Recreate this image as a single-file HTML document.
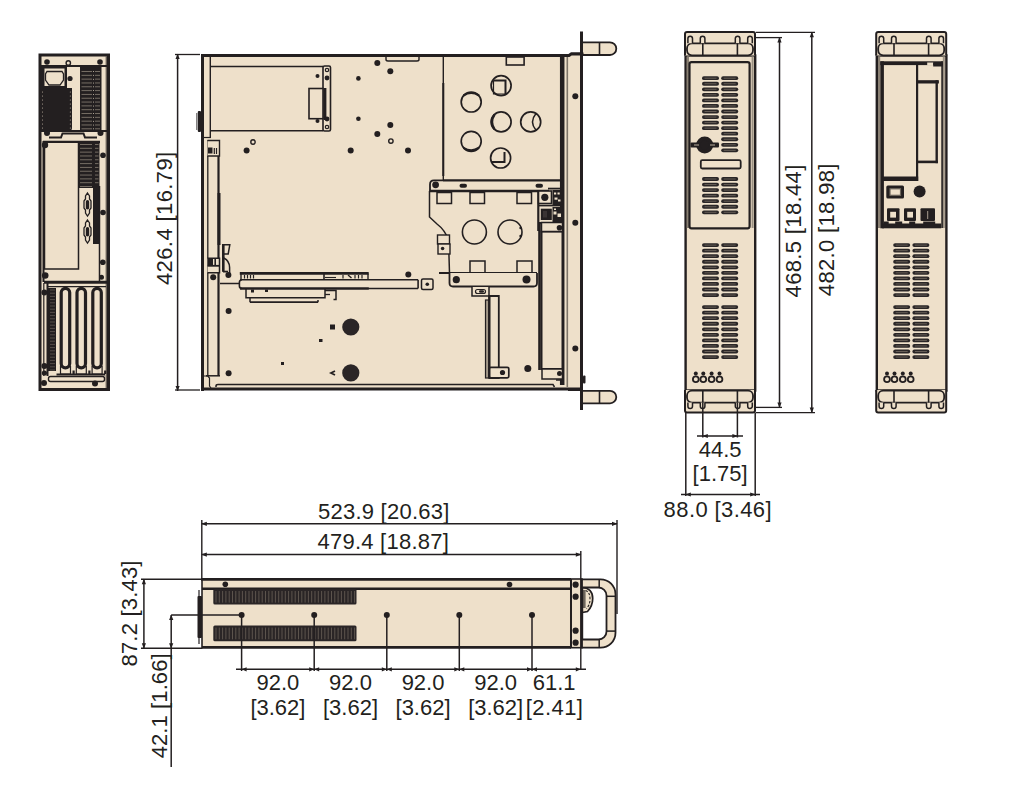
<!DOCTYPE html>
<html><head><meta charset="utf-8"><title>Chassis drawing</title>
<style>
html,body{margin:0;padding:0;background:#fff;width:1021px;height:794px;overflow:hidden}
svg{position:absolute;left:0;top:0;display:block}
text{font-family:"Liberation Sans",sans-serif;font-size:22px;fill:#231f20}
</style></head>
<body>
<svg width="1021" height="794" viewBox="0 0 1021 794">
<rect x="40" y="55" width="68.5" height="334.5" fill="#eee0ca" stroke="#231f20" stroke-width="3"/>
<line x1="106.3" y1="56" x2="106.3" y2="388" stroke="#5f574f" stroke-width="1.3"/>
<line x1="41" y1="66" x2="107" y2="66" stroke="#231f20" stroke-width="2"/>
<circle cx="47" cy="62" r="2.8" fill="#231f20"/>
<circle cx="68.3" cy="63" r="2.2" fill="#eee0ca" stroke="#231f20" stroke-width="1.4"/>
<circle cx="100" cy="62" r="2.8" fill="#231f20"/>
<rect x="41" y="66" width="26" height="22" fill="#231f20"/>
<rect x="44.5" y="68.5" width="20" height="17.5" fill="#eee0ca"/>
<path d="M47 71.5 H62 L63.5 74 V80 L60 85 H49 L45.5 80 V74 Z" fill="#eee0ca" stroke="#231f20" stroke-width="1.3"/>
<path d="M41 88 H72 V128 Q72 131 69 131 H41 Z" fill="#231f20"/>
<circle cx="42.5" cy="92" r="0.5" fill="#c8bba8"/>
<circle cx="70.3" cy="92" r="0.5" fill="#c8bba8"/>
<circle cx="42.5" cy="96" r="0.5" fill="#c8bba8"/>
<circle cx="70.3" cy="96" r="0.5" fill="#c8bba8"/>
<circle cx="42.5" cy="100" r="0.5" fill="#c8bba8"/>
<circle cx="70.3" cy="100" r="0.5" fill="#c8bba8"/>
<circle cx="42.5" cy="104" r="0.5" fill="#c8bba8"/>
<circle cx="70.3" cy="104" r="0.5" fill="#c8bba8"/>
<circle cx="42.5" cy="108" r="0.5" fill="#c8bba8"/>
<circle cx="70.3" cy="108" r="0.5" fill="#c8bba8"/>
<circle cx="42.5" cy="112" r="0.5" fill="#c8bba8"/>
<circle cx="70.3" cy="112" r="0.5" fill="#c8bba8"/>
<circle cx="42.5" cy="116" r="0.5" fill="#c8bba8"/>
<circle cx="70.3" cy="116" r="0.5" fill="#c8bba8"/>
<circle cx="42.5" cy="120" r="0.5" fill="#c8bba8"/>
<circle cx="70.3" cy="120" r="0.5" fill="#c8bba8"/>
<circle cx="42.5" cy="124" r="0.5" fill="#c8bba8"/>
<circle cx="70.3" cy="124" r="0.5" fill="#c8bba8"/>
<circle cx="42.5" cy="128" r="0.5" fill="#c8bba8"/>
<circle cx="70.3" cy="128" r="0.5" fill="#c8bba8"/>
<circle cx="70" cy="78.5" r="2.6" fill="#231f20"/>
<rect x="80" y="67" width="21.5" height="64" fill="#231f20"/>
<line x1="81.5" y1="71.5" x2="92" y2="71.5" stroke="#8a8175" stroke-width="0.8"/>
<line x1="95" y1="71.5" x2="100" y2="71.5" stroke="#8a8175" stroke-width="0.8"/>
<circle cx="93.5" cy="71.5" r="0.5" fill="#d8ccb8"/>
<line x1="81.5" y1="75.32" x2="92" y2="75.32" stroke="#8a8175" stroke-width="0.8"/>
<line x1="95" y1="75.32" x2="100" y2="75.32" stroke="#8a8175" stroke-width="0.8"/>
<circle cx="93.5" cy="75.32" r="0.5" fill="#d8ccb8"/>
<line x1="81.5" y1="79.13999999999999" x2="92" y2="79.13999999999999" stroke="#8a8175" stroke-width="0.8"/>
<line x1="95" y1="79.13999999999999" x2="100" y2="79.13999999999999" stroke="#8a8175" stroke-width="0.8"/>
<circle cx="93.5" cy="79.13999999999999" r="0.5" fill="#d8ccb8"/>
<line x1="81.5" y1="82.95999999999998" x2="92" y2="82.95999999999998" stroke="#8a8175" stroke-width="0.8"/>
<line x1="95" y1="82.95999999999998" x2="100" y2="82.95999999999998" stroke="#8a8175" stroke-width="0.8"/>
<circle cx="93.5" cy="82.95999999999998" r="0.5" fill="#d8ccb8"/>
<line x1="81.5" y1="86.77999999999997" x2="92" y2="86.77999999999997" stroke="#8a8175" stroke-width="0.8"/>
<line x1="95" y1="86.77999999999997" x2="100" y2="86.77999999999997" stroke="#8a8175" stroke-width="0.8"/>
<circle cx="93.5" cy="86.77999999999997" r="0.5" fill="#d8ccb8"/>
<line x1="81.5" y1="90.59999999999997" x2="92" y2="90.59999999999997" stroke="#8a8175" stroke-width="0.8"/>
<line x1="95" y1="90.59999999999997" x2="100" y2="90.59999999999997" stroke="#8a8175" stroke-width="0.8"/>
<circle cx="93.5" cy="90.59999999999997" r="0.5" fill="#d8ccb8"/>
<line x1="81.5" y1="94.41999999999996" x2="92" y2="94.41999999999996" stroke="#8a8175" stroke-width="0.8"/>
<line x1="95" y1="94.41999999999996" x2="100" y2="94.41999999999996" stroke="#8a8175" stroke-width="0.8"/>
<circle cx="93.5" cy="94.41999999999996" r="0.5" fill="#d8ccb8"/>
<line x1="81.5" y1="98.23999999999995" x2="92" y2="98.23999999999995" stroke="#8a8175" stroke-width="0.8"/>
<line x1="95" y1="98.23999999999995" x2="100" y2="98.23999999999995" stroke="#8a8175" stroke-width="0.8"/>
<circle cx="93.5" cy="98.23999999999995" r="0.5" fill="#d8ccb8"/>
<line x1="81.5" y1="102.05999999999995" x2="92" y2="102.05999999999995" stroke="#8a8175" stroke-width="0.8"/>
<line x1="95" y1="102.05999999999995" x2="100" y2="102.05999999999995" stroke="#8a8175" stroke-width="0.8"/>
<circle cx="93.5" cy="102.05999999999995" r="0.5" fill="#d8ccb8"/>
<line x1="81.5" y1="105.87999999999994" x2="92" y2="105.87999999999994" stroke="#8a8175" stroke-width="0.8"/>
<line x1="95" y1="105.87999999999994" x2="100" y2="105.87999999999994" stroke="#8a8175" stroke-width="0.8"/>
<circle cx="93.5" cy="105.87999999999994" r="0.5" fill="#d8ccb8"/>
<line x1="81.5" y1="109.69999999999993" x2="92" y2="109.69999999999993" stroke="#8a8175" stroke-width="0.8"/>
<line x1="95" y1="109.69999999999993" x2="100" y2="109.69999999999993" stroke="#8a8175" stroke-width="0.8"/>
<circle cx="93.5" cy="109.69999999999993" r="0.5" fill="#d8ccb8"/>
<line x1="81.5" y1="113.51999999999992" x2="92" y2="113.51999999999992" stroke="#8a8175" stroke-width="0.8"/>
<line x1="95" y1="113.51999999999992" x2="100" y2="113.51999999999992" stroke="#8a8175" stroke-width="0.8"/>
<circle cx="93.5" cy="113.51999999999992" r="0.5" fill="#d8ccb8"/>
<line x1="81.5" y1="117.33999999999992" x2="92" y2="117.33999999999992" stroke="#8a8175" stroke-width="0.8"/>
<line x1="95" y1="117.33999999999992" x2="100" y2="117.33999999999992" stroke="#8a8175" stroke-width="0.8"/>
<circle cx="93.5" cy="117.33999999999992" r="0.5" fill="#d8ccb8"/>
<line x1="81.5" y1="121.15999999999991" x2="92" y2="121.15999999999991" stroke="#8a8175" stroke-width="0.8"/>
<line x1="95" y1="121.15999999999991" x2="100" y2="121.15999999999991" stroke="#8a8175" stroke-width="0.8"/>
<circle cx="93.5" cy="121.15999999999991" r="0.5" fill="#d8ccb8"/>
<line x1="81.5" y1="124.9799999999999" x2="92" y2="124.9799999999999" stroke="#8a8175" stroke-width="0.8"/>
<line x1="95" y1="124.9799999999999" x2="100" y2="124.9799999999999" stroke="#8a8175" stroke-width="0.8"/>
<circle cx="93.5" cy="124.9799999999999" r="0.5" fill="#d8ccb8"/>
<line x1="81.5" y1="128.7999999999999" x2="92" y2="128.7999999999999" stroke="#8a8175" stroke-width="0.8"/>
<line x1="95" y1="128.7999999999999" x2="100" y2="128.7999999999999" stroke="#8a8175" stroke-width="0.8"/>
<circle cx="93.5" cy="128.7999999999999" r="0.5" fill="#d8ccb8"/>
<line x1="41" y1="131" x2="107" y2="131" stroke="#231f20" stroke-width="2"/>
<path d="M49 137.5 H61 L62.5 133.5 H83.5 L85 137.5 H97" fill="none" stroke="#231f20" stroke-width="2"/>
<circle cx="47" cy="133" r="3" fill="#231f20"/>
<circle cx="100.5" cy="133" r="3" fill="#231f20"/>
<path d="M43.5 282 V142 H100" fill="none" stroke="#231f20" stroke-width="2"/>
<line x1="43" y1="142" x2="100" y2="142" stroke="#231f20" stroke-width="2.6"/>
<path d="M44.5 143 V269 H78.5 V143" fill="#eee0ca" stroke="#231f20" stroke-width="1.5"/>
<rect x="78.5" y="142" width="21" height="46" fill="#231f20"/>
<line x1="80" y1="144.5" x2="92" y2="144.5" stroke="#8a8175" stroke-width="0.8"/>
<line x1="95" y1="144.5" x2="98.5" y2="144.5" stroke="#8a8175" stroke-width="0.8"/>
<line x1="80" y1="148.32" x2="92" y2="148.32" stroke="#8a8175" stroke-width="0.8"/>
<line x1="95" y1="148.32" x2="98.5" y2="148.32" stroke="#8a8175" stroke-width="0.8"/>
<line x1="80" y1="152.14" x2="92" y2="152.14" stroke="#8a8175" stroke-width="0.8"/>
<line x1="95" y1="152.14" x2="98.5" y2="152.14" stroke="#8a8175" stroke-width="0.8"/>
<line x1="80" y1="155.95999999999998" x2="92" y2="155.95999999999998" stroke="#8a8175" stroke-width="0.8"/>
<line x1="95" y1="155.95999999999998" x2="98.5" y2="155.95999999999998" stroke="#8a8175" stroke-width="0.8"/>
<line x1="80" y1="159.77999999999997" x2="92" y2="159.77999999999997" stroke="#8a8175" stroke-width="0.8"/>
<line x1="95" y1="159.77999999999997" x2="98.5" y2="159.77999999999997" stroke="#8a8175" stroke-width="0.8"/>
<line x1="80" y1="163.59999999999997" x2="92" y2="163.59999999999997" stroke="#8a8175" stroke-width="0.8"/>
<line x1="95" y1="163.59999999999997" x2="98.5" y2="163.59999999999997" stroke="#8a8175" stroke-width="0.8"/>
<line x1="80" y1="167.41999999999996" x2="92" y2="167.41999999999996" stroke="#8a8175" stroke-width="0.8"/>
<line x1="95" y1="167.41999999999996" x2="98.5" y2="167.41999999999996" stroke="#8a8175" stroke-width="0.8"/>
<line x1="80" y1="171.23999999999995" x2="92" y2="171.23999999999995" stroke="#8a8175" stroke-width="0.8"/>
<line x1="95" y1="171.23999999999995" x2="98.5" y2="171.23999999999995" stroke="#8a8175" stroke-width="0.8"/>
<line x1="80" y1="175.05999999999995" x2="92" y2="175.05999999999995" stroke="#8a8175" stroke-width="0.8"/>
<line x1="95" y1="175.05999999999995" x2="98.5" y2="175.05999999999995" stroke="#8a8175" stroke-width="0.8"/>
<line x1="80" y1="178.87999999999994" x2="92" y2="178.87999999999994" stroke="#8a8175" stroke-width="0.8"/>
<line x1="95" y1="178.87999999999994" x2="98.5" y2="178.87999999999994" stroke="#8a8175" stroke-width="0.8"/>
<line x1="80" y1="182.69999999999993" x2="92" y2="182.69999999999993" stroke="#8a8175" stroke-width="0.8"/>
<line x1="95" y1="182.69999999999993" x2="98.5" y2="182.69999999999993" stroke="#8a8175" stroke-width="0.8"/>
<line x1="80" y1="186.51999999999992" x2="92" y2="186.51999999999992" stroke="#8a8175" stroke-width="0.8"/>
<line x1="95" y1="186.51999999999992" x2="98.5" y2="186.51999999999992" stroke="#8a8175" stroke-width="0.8"/>
<rect x="93" y="186" width="6.5" height="58" fill="#231f20"/>
<line x1="99.5" y1="186" x2="99.5" y2="283" stroke="#231f20" stroke-width="1.5"/>
<circle cx="45" cy="145" r="3.2" fill="#231f20"/>
<circle cx="103" cy="155.2" r="2.8" fill="#231f20"/>
<circle cx="103" cy="212.5" r="2.8" fill="#231f20"/>
<circle cx="102.8" cy="262.2" r="2.8" fill="#231f20"/>
<circle cx="101.5" cy="277.3" r="2.5" fill="#231f20"/>
<circle cx="45.2" cy="275.5" r="3.3" fill="#231f20"/>
<path d="M87.5 193 L89.5 196 V199 L91 201 V208 L89.5 210 V213 L87.5 216 L85.5 213 V210 L84 208 V201 L85.5 199 V196 Z" fill="#eee0ca" stroke="#231f20" stroke-width="1.3"/>
<rect x="85.8" y="200" width="3.4" height="9.5" rx="1.7" fill="#231f20"/>
<path d="M87.5 220 L89.5 223 V226 L91 228 V235 L89.5 237 V240 L87.5 243 L85.5 240 V237 L84 235 V228 L85.5 226 V223 Z" fill="#eee0ca" stroke="#231f20" stroke-width="1.3"/>
<rect x="85.8" y="227" width="3.4" height="9.5" rx="1.7" fill="#231f20"/>
<line x1="44" y1="282.3" x2="107" y2="282.3" stroke="#231f20" stroke-width="3"/>
<line x1="47" y1="286.6" x2="106" y2="286.6" stroke="#231f20" stroke-width="1.2"/>
<line x1="43.8" y1="283" x2="43.8" y2="376" stroke="#231f20" stroke-width="1.2"/>
<line x1="47.5" y1="283" x2="47.5" y2="376" stroke="#231f20" stroke-width="2"/>
<rect x="48" y="288" width="8" height="83" fill="#231f20"/>
<line x1="50" y1="290" x2="55" y2="290" stroke="#6a625a" stroke-width="0.7"/>
<line x1="50" y1="293.2" x2="55" y2="293.2" stroke="#6a625a" stroke-width="0.7"/>
<line x1="50" y1="296.4" x2="55" y2="296.4" stroke="#6a625a" stroke-width="0.7"/>
<line x1="50" y1="299.59999999999997" x2="55" y2="299.59999999999997" stroke="#6a625a" stroke-width="0.7"/>
<line x1="50" y1="302.79999999999995" x2="55" y2="302.79999999999995" stroke="#6a625a" stroke-width="0.7"/>
<line x1="50" y1="305.99999999999994" x2="55" y2="305.99999999999994" stroke="#6a625a" stroke-width="0.7"/>
<line x1="50" y1="309.19999999999993" x2="55" y2="309.19999999999993" stroke="#6a625a" stroke-width="0.7"/>
<line x1="50" y1="312.3999999999999" x2="55" y2="312.3999999999999" stroke="#6a625a" stroke-width="0.7"/>
<line x1="50" y1="315.5999999999999" x2="55" y2="315.5999999999999" stroke="#6a625a" stroke-width="0.7"/>
<line x1="50" y1="318.7999999999999" x2="55" y2="318.7999999999999" stroke="#6a625a" stroke-width="0.7"/>
<line x1="50" y1="321.9999999999999" x2="55" y2="321.9999999999999" stroke="#6a625a" stroke-width="0.7"/>
<line x1="50" y1="325.1999999999999" x2="55" y2="325.1999999999999" stroke="#6a625a" stroke-width="0.7"/>
<line x1="50" y1="328.39999999999986" x2="55" y2="328.39999999999986" stroke="#6a625a" stroke-width="0.7"/>
<line x1="50" y1="331.59999999999985" x2="55" y2="331.59999999999985" stroke="#6a625a" stroke-width="0.7"/>
<line x1="50" y1="334.79999999999984" x2="55" y2="334.79999999999984" stroke="#6a625a" stroke-width="0.7"/>
<line x1="50" y1="337.99999999999983" x2="55" y2="337.99999999999983" stroke="#6a625a" stroke-width="0.7"/>
<line x1="50" y1="341.1999999999998" x2="55" y2="341.1999999999998" stroke="#6a625a" stroke-width="0.7"/>
<line x1="50" y1="344.3999999999998" x2="55" y2="344.3999999999998" stroke="#6a625a" stroke-width="0.7"/>
<line x1="50" y1="347.5999999999998" x2="55" y2="347.5999999999998" stroke="#6a625a" stroke-width="0.7"/>
<line x1="50" y1="350.7999999999998" x2="55" y2="350.7999999999998" stroke="#6a625a" stroke-width="0.7"/>
<line x1="50" y1="353.9999999999998" x2="55" y2="353.9999999999998" stroke="#6a625a" stroke-width="0.7"/>
<line x1="50" y1="357.19999999999976" x2="55" y2="357.19999999999976" stroke="#6a625a" stroke-width="0.7"/>
<line x1="50" y1="360.39999999999975" x2="55" y2="360.39999999999975" stroke="#6a625a" stroke-width="0.7"/>
<line x1="50" y1="363.59999999999974" x2="55" y2="363.59999999999974" stroke="#6a625a" stroke-width="0.7"/>
<line x1="50" y1="366.7999999999997" x2="55" y2="366.7999999999997" stroke="#6a625a" stroke-width="0.7"/>
<line x1="50" y1="369.9999999999997" x2="55" y2="369.9999999999997" stroke="#6a625a" stroke-width="0.7"/>
<circle cx="44.4" cy="292.4" r="3" fill="#231f20"/>
<circle cx="44.4" cy="366" r="3" fill="#231f20"/>
<circle cx="44.4" cy="373" r="2.6" fill="#231f20"/>
<rect x="61.2" y="288.3" width="8.5" height="79.5" rx="4.25" fill="#eee0ca" stroke="#231f20" stroke-width="3.2"/>
<path d="M60.5 366 V374 H70.5 V366" fill="none" stroke="#231f20" stroke-width="1.2"/>
<rect x="72.5" y="370.5" width="2.2" height="3.5" fill="#231f20"/>
<rect x="77.0" y="288.3" width="8.5" height="79.5" rx="4.25" fill="#eee0ca" stroke="#231f20" stroke-width="3.2"/>
<path d="M76.3 366 V374 H86.3 V366" fill="none" stroke="#231f20" stroke-width="1.2"/>
<rect x="88.3" y="370.5" width="2.2" height="3.5" fill="#231f20"/>
<rect x="92.80000000000001" y="288.3" width="8.5" height="79.5" rx="4.25" fill="#eee0ca" stroke="#231f20" stroke-width="3.2"/>
<path d="M92.1 366 V374 H102.1 V366" fill="none" stroke="#231f20" stroke-width="1.2"/>
<rect x="104.1" y="370.5" width="2.2" height="3.5" fill="#231f20"/>
<line x1="56.5" y1="374.5" x2="105" y2="374.5" stroke="#231f20" stroke-width="2"/>
<rect x="48.5" y="376.5" width="56" height="5" rx="2" fill="#eee0ca" stroke="#231f20" stroke-width="1.4"/>
<circle cx="44" cy="383" r="3" fill="#231f20"/>
<circle cx="95" cy="383.5" r="3" fill="#231f20"/>
<path d="M201 54.5 H569 L571 53 H582 V390 H201 Z" fill="#eee0ca"/>
<line x1="567.3" y1="57" x2="567.3" y2="387" stroke="#7d7468" stroke-width="1.6"/>
<line x1="581.5" y1="31.5" x2="581.5" y2="410" stroke="#231f20" stroke-width="3"/>
<line x1="562.2" y1="57" x2="562.2" y2="385" stroke="#231f20" stroke-width="4.5"/>
<path d="M201 55.5 H569 L571.5 53.8 H582" fill="none" stroke="#231f20" stroke-width="3.2"/>
<line x1="202.5" y1="54" x2="202.5" y2="391" stroke="#231f20" stroke-width="3"/>
<line x1="201" y1="389" x2="583" y2="389" stroke="#231f20" stroke-width="3.2"/>
<path d="M216 387 V386 Q216 384.5 218 384.5 H553 L554.5 387" fill="none" stroke="#231f20" stroke-width="1.5"/>
<rect x="197.8" y="111" width="3.2" height="21" rx="1" fill="#231f20"/>
<line x1="196.8" y1="113" x2="196.8" y2="130" stroke="#231f20" stroke-width="0.8"/>
<line x1="210.3" y1="57" x2="210.3" y2="137" stroke="#231f20" stroke-width="1.4"/>
<line x1="204" y1="137.5" x2="211" y2="137.5" stroke="#231f20" stroke-width="1.2"/>
<line x1="207.8" y1="140" x2="207.8" y2="376" stroke="#231f20" stroke-width="1.3"/>
<line x1="218.5" y1="140" x2="218.5" y2="376" stroke="#231f20" stroke-width="2.2"/>
<line x1="219" y1="193" x2="219" y2="245" stroke="#231f20" stroke-width="3"/>
<line x1="206" y1="375.8" x2="220" y2="375.8" stroke="#231f20" stroke-width="1.5"/>
<path d="M207.5 140.5 H219.5 V156 H207.5" fill="#eee0ca" stroke="#231f20" stroke-width="1.4"/>
<rect x="208" y="147.5" width="4.5" height="6" fill="#231f20"/>
<line x1="214.3" y1="148" x2="214.3" y2="154" stroke="#231f20" stroke-width="1.2"/>
<line x1="216.5" y1="148" x2="216.5" y2="154" stroke="#231f20" stroke-width="1.2"/>
<path d="M207.5 258.3 H219.5 V272.7 H207.5" fill="#eee0ca" stroke="#231f20" stroke-width="1.5"/>
<rect x="207.5" y="258.5" width="5.5" height="7" fill="#231f20"/>
<line x1="215.2" y1="258.5" x2="215.2" y2="265.5" stroke="#231f20" stroke-width="1.6"/>
<line x1="207.5" y1="265.8" x2="219.5" y2="265.8" stroke="#231f20" stroke-width="1.8"/>
<path d="M222.5 244.8 H229.8 L228.2 254 H222.5" fill="#eee0ca" stroke="#231f20" stroke-width="1.5"/>
<line x1="223.3" y1="244" x2="223.3" y2="271.8" stroke="#231f20" stroke-width="2.6"/>
<path d="M223.8 258 Q229.6 261 229.6 267.5 V273" fill="none" stroke="#231f20" stroke-width="1.5"/>
<line x1="223" y1="271.6" x2="228" y2="271.6" stroke="#231f20" stroke-width="1.8"/>
<circle cx="213.2" cy="277.2" r="3" fill="#231f20"/>
<circle cx="228.4" cy="275" r="3" fill="#231f20"/>
<path d="M202 376 H207.8 L209.5 378 V386 L211 388" fill="none" stroke="#231f20" stroke-width="1.2"/>
<path d="M210.3 66.5 H323 M210.3 130.7 H323" fill="none" stroke="#231f20" stroke-width="1.6"/>
<rect x="323" y="66" width="7.5" height="65" rx="1.5" fill="#eee0ca" stroke="#231f20" stroke-width="1.6"/>
<line x1="325.2" y1="88" x2="325.2" y2="120" stroke="#231f20" stroke-width="2.4"/>
<rect x="309" y="88.5" width="14" height="30.2" fill="#eee0ca" stroke="#231f20" stroke-width="1.6"/>
<circle cx="317.5" cy="76" r="2" fill="#231f20"/>
<circle cx="317.5" cy="121" r="2" fill="#231f20"/>
<circle cx="327" cy="70" r="1.7" fill="#eee0ca" stroke="#231f20" stroke-width="1.2"/>
<circle cx="327" cy="78" r="2.4" fill="#231f20"/>
<circle cx="327" cy="119" r="2.4" fill="#231f20"/>
<circle cx="327" cy="127" r="1.7" fill="#eee0ca" stroke="#231f20" stroke-width="1.2"/>
<circle cx="377.3" cy="62.9" r="3" fill="#231f20"/>
<circle cx="390.3" cy="71.3" r="3" fill="#231f20"/>
<circle cx="358.4" cy="78.4" r="2.3" fill="#231f20"/>
<circle cx="358.4" cy="118.7" r="2.3" fill="#231f20"/>
<circle cx="390.3" cy="124.9" r="3" fill="#231f20"/>
<circle cx="377.3" cy="134" r="3" fill="#231f20"/>
<circle cx="246.6" cy="150.4" r="3" fill="#231f20"/>
<circle cx="350.7" cy="150.4" r="3" fill="#231f20"/>
<circle cx="408" cy="150.4" r="3" fill="#231f20"/>
<circle cx="228.6" cy="311" r="3" fill="#231f20"/>
<circle cx="228.6" cy="373.3" r="3" fill="#231f20"/>
<circle cx="527.8" cy="368.4" r="3.5" fill="#231f20"/>
<circle cx="408.3" cy="274.6" r="3" fill="#231f20"/>
<circle cx="253" cy="142" r="2.2" fill="#eee0ca" stroke="#231f20" stroke-width="1.4"/>
<circle cx="390.9" cy="141.1" r="2.2" fill="#eee0ca" stroke="#231f20" stroke-width="1.4"/>
<path d="M386 57 V59.5 Q386 61 388 61 H417 Q419 61 419 59.5 V57" fill="#eee0ca" stroke="#231f20" stroke-width="1.4"/>
<rect x="506.3" y="57" width="17.8" height="8" fill="#eee0ca" stroke="#231f20" stroke-width="1.6"/>
<line x1="443.3" y1="57" x2="443.3" y2="181" stroke="#231f20" stroke-width="1.4"/>
<line x1="443.3" y1="83" x2="443.3" y2="176" stroke="#231f20" stroke-width="2"/>
<line x1="443" y1="180.4" x2="562" y2="180.4" stroke="#231f20" stroke-width="2.2"/>
<circle cx="501.1" cy="85.6" r="10" fill="none" stroke="#231f20" stroke-width="1.7"/>
<circle cx="471.2" cy="102" r="10" fill="none" stroke="#231f20" stroke-width="1.7"/>
<circle cx="501.1" cy="121.9" r="10" fill="none" stroke="#231f20" stroke-width="1.7"/>
<circle cx="530.7" cy="121.9" r="10" fill="none" stroke="#231f20" stroke-width="1.7"/>
<circle cx="471.2" cy="141.3" r="10" fill="none" stroke="#231f20" stroke-width="1.7"/>
<circle cx="500.6" cy="158" r="10" fill="none" stroke="#231f20" stroke-width="1.7"/>
<path d="M493.5 80.5 H505.5 V94" fill="none" stroke="#231f20" stroke-width="2"/>
<path d="M493.5 80.5 V94 H505.5" fill="none" stroke="#231f20" stroke-width="1.2"/>
<path d="M463.5 95.5 Q471.2 90.5 479 95.5" fill="none" stroke="#231f20" stroke-width="2.2"/>
<path d="M494.5 114.5 Q489.5 121.9 494.5 129.3" fill="none" stroke="#231f20" stroke-width="2.4"/>
<path d="M536 113.5 Q529 121.9 536 130.3" fill="none" stroke="#231f20" stroke-width="1.5"/>
<path d="M463.5 147.8 Q471.2 152.8 479 147.8" fill="none" stroke="#231f20" stroke-width="2.2"/>
<path d="M491.5 162 H504.5 V152" fill="none" stroke="#231f20" stroke-width="2"/>
<path d="M430 191 V184.5 Q430 180.4 434 180.4 H443" fill="none" stroke="#231f20" stroke-width="1.8"/>
<circle cx="435.6" cy="184.8" r="3.4" fill="#231f20"/>
<rect x="459.5" y="183.8" width="7.5" height="4" rx="2" fill="#231f20"/>
<rect x="535.5" y="183.8" width="7.5" height="4" rx="2" fill="#231f20"/>
<line x1="429.5" y1="191" x2="549" y2="191" stroke="#231f20" stroke-width="2.6"/>
<path d="M429.5 191 V217 L437 224 Q445 230 448.5 240 L449.5 272.9" fill="none" stroke="#231f20" stroke-width="1.5"/>
<rect x="437" y="192.5" width="14.5" height="11" fill="#eee0ca" stroke="#231f20" stroke-width="1.5"/>
<rect x="470" y="192.5" width="14.5" height="11" fill="#eee0ca" stroke="#231f20" stroke-width="1.5"/>
<rect x="517" y="192.5" width="14.5" height="11" fill="#eee0ca" stroke="#231f20" stroke-width="1.5"/>
<rect x="470" y="261" width="15" height="12" fill="#eee0ca" stroke="#231f20" stroke-width="1.5"/>
<rect x="517" y="261" width="15" height="12" fill="#eee0ca" stroke="#231f20" stroke-width="1.5"/>
<circle cx="474.4" cy="232" r="12" fill="none" stroke="#231f20" stroke-width="1.6"/>
<circle cx="510" cy="232" r="12" fill="none" stroke="#231f20" stroke-width="1.6"/>
<circle cx="520.5" cy="228" r="1.2" fill="#231f20"/>
<circle cx="520.5" cy="236" r="1.2" fill="#231f20"/>
<rect x="437.5" y="235" width="12" height="9" fill="#eee0ca" stroke="#231f20" stroke-width="1.4"/>
<rect x="438" y="244" width="12" height="10" fill="#eee0ca" stroke="#231f20" stroke-width="1.4"/>
<circle cx="442.6" cy="248.5" r="1.8" fill="#231f20"/>
<line x1="439" y1="272.9" x2="537" y2="272.9" stroke="#231f20" stroke-width="2"/>
<path d="M449.5 272.9 V283 Q449.5 286.5 453 286.5 H533.5 Q537 286.5 537 283 V272.9" fill="#eee0ca" stroke="#231f20" stroke-width="1.8"/>
<circle cx="456.3" cy="279.7" r="3.6" fill="#231f20"/>
<circle cx="526.5" cy="279.5" r="4" fill="#231f20"/>
<rect x="421.5" y="279" width="11.5" height="10.5" rx="1.5" fill="#eee0ca" stroke="#231f20" stroke-width="1.5"/>
<circle cx="427.3" cy="284.2" r="1.8" fill="#231f20"/>
<path d="M472 287 V296 H489 V287" fill="#eee0ca" stroke="#231f20" stroke-width="1.5"/>
<rect x="475.5" y="289.5" width="10" height="4" rx="2" fill="none" stroke="#231f20" stroke-width="1.2"/>
<rect x="479" y="290.3" width="5" height="2.4" rx="1.2" fill="#231f20"/>
<rect x="485.5" y="300" width="3.6" height="78" fill="#a59a8a" stroke="#231f20" stroke-width="1.2"/>
<path d="M489.3 296 H498.8 V378 H489.3 Z" fill="#eee0ca" stroke="#231f20" stroke-width="1.8"/>
<rect x="489.3" y="367.3" width="19.5" height="10.5" rx="1.5" fill="#eee0ca" stroke="#231f20" stroke-width="1.7"/>
<circle cx="502.5" cy="372.5" r="2.6" fill="#231f20"/>
<line x1="489.3" y1="296" x2="489.3" y2="378" stroke="#231f20" stroke-width="2.2"/>
<line x1="548" y1="188.6" x2="563" y2="188.6" stroke="#231f20" stroke-width="1.8"/>
<line x1="538.3" y1="190" x2="538.3" y2="231" stroke="#231f20" stroke-width="2.2"/>
<rect x="538.5" y="191" width="13" height="12.5" fill="#eee0ca" stroke="#231f20" stroke-width="1.6"/>
<circle cx="544.8" cy="197.3" r="3.6" fill="#231f20"/>
<rect x="552.5" y="190" width="9.5" height="15" fill="#231f20"/>
<rect x="554" y="192.5" width="2.2" height="2" fill="#eee0ca"/>
<rect x="557.5" y="192.5" width="2.2" height="2" fill="#eee0ca"/>
<rect x="554.5" y="197.5" width="3" height="2.2" fill="#eee0ca"/>
<rect x="558" y="199.5" width="2.5" height="2" fill="#eee0ca"/>
<line x1="538" y1="205.6" x2="563" y2="205.6" stroke="#231f20" stroke-width="1.6"/>
<rect x="540.8" y="208.7" width="11" height="11.3" fill="#231f20"/>
<rect x="543" y="211" width="4" height="6.5" fill="#3a3434"/>
<rect x="552.5" y="207" width="10" height="15" fill="#231f20"/>
<rect x="553.5" y="211.5" width="3" height="3" fill="#eee0ca"/>
<rect x="557.5" y="213.5" width="3.5" height="3.5" fill="#eee0ca"/>
<rect x="554" y="208.5" width="2" height="1.5" fill="#eee0ca"/>
<line x1="538" y1="223" x2="563" y2="223" stroke="#231f20" stroke-width="1.8"/>
<line x1="539.5" y1="222" x2="539.5" y2="370" stroke="#231f20" stroke-width="2.6"/>
<rect x="541.5" y="231.5" width="21" height="137.5" fill="#eee0ca" stroke="#231f20" stroke-width="2"/>
<rect x="541.5" y="222.5" width="21" height="9" fill="#eee0ca" stroke="#231f20" stroke-width="1.5"/>
<circle cx="559.5" cy="227.7" r="2.8" fill="#231f20"/>
<rect x="542" y="369" width="20.5" height="10" fill="#eee0ca" stroke="#231f20" stroke-width="1.5"/>
<circle cx="559.5" cy="373.5" r="2.5" fill="#231f20"/>
<line x1="556" y1="380" x2="562" y2="380" stroke="#231f20" stroke-width="1.5"/>
<circle cx="575.3" cy="96.2" r="3" fill="#231f20"/>
<circle cx="575.3" cy="222.7" r="3" fill="#231f20"/>
<circle cx="575.3" cy="348.5" r="3" fill="#231f20"/>
<path d="M583 42.3 H609.9499999999999 A6.350000000000001 6.350000000000001 0 0 1 609.9499999999999 55 H583" fill="#eee0ca" stroke="#231f20" stroke-width="1.8"/>
<line x1="599.5" y1="42.3" x2="599.5" y2="55" stroke="#231f20" stroke-width="1.6"/>
<path d="M583 390.8 H610.05 A6.25 6.25 0 0 1 610.05 403.3 H583" fill="#eee0ca" stroke="#231f20" stroke-width="1.8"/>
<line x1="599.5" y1="390.8" x2="599.5" y2="403.3" stroke="#231f20" stroke-width="1.6"/>
<rect x="580" y="52.5" width="3.5" height="3.5" fill="#231f20"/>
<path d="M568 390 H582" fill="none" stroke="#231f20" stroke-width="2"/>
<rect x="583" y="375.5" width="2.5" height="8" rx="1" fill="#231f20"/>
<line x1="239.8" y1="273.4" x2="368.7" y2="273.4" stroke="#231f20" stroke-width="2.6"/>
<line x1="240" y1="279.7" x2="418" y2="279.7" stroke="#231f20" stroke-width="1.6"/>
<path d="M242 279.7 Q239.4 279.7 239.4 282.5 V286 Q239.4 288.5 242 288.5" fill="none" stroke="#231f20" stroke-width="1.6"/>
<line x1="240" y1="288.5" x2="368.7" y2="288.5" stroke="#231f20" stroke-width="2.6"/>
<line x1="368" y1="288.5" x2="418" y2="288.5" stroke="#231f20" stroke-width="1.5"/>
<line x1="418.1" y1="279.7" x2="418.1" y2="288.5" stroke="#231f20" stroke-width="1.6"/>
<line x1="220" y1="283.5" x2="239.4" y2="283.5" stroke="#231f20" stroke-width="1.5"/>
<line x1="241" y1="273.4" x2="241" y2="279.7" stroke="#231f20" stroke-width="1.4"/>
<line x1="324" y1="273.4" x2="324" y2="279.7" stroke="#231f20" stroke-width="1.6"/>
<line x1="368" y1="273.4" x2="368" y2="279.7" stroke="#231f20" stroke-width="1.4"/>
<line x1="244.5" y1="275" x2="244.5" y2="278.5" stroke="#231f20" stroke-width="1.2"/>
<line x1="247.5" y1="275" x2="247.5" y2="278.5" stroke="#231f20" stroke-width="1.2"/>
<line x1="250.5" y1="275" x2="250.5" y2="278.5" stroke="#231f20" stroke-width="1.2"/>
<line x1="253.5" y1="275" x2="253.5" y2="278.5" stroke="#231f20" stroke-width="1.2"/>
<line x1="343" y1="275" x2="343" y2="278.5" stroke="#231f20" stroke-width="1.2"/>
<line x1="355" y1="275" x2="355" y2="278.5" stroke="#231f20" stroke-width="1.2"/>
<line x1="358.5" y1="275" x2="358.5" y2="278.5" stroke="#231f20" stroke-width="1.2"/>
<line x1="362" y1="275" x2="362" y2="278.5" stroke="#231f20" stroke-width="1.2"/>
<line x1="348" y1="275" x2="351.5" y2="278" stroke="#231f20" stroke-width="1.4"/>
<line x1="325" y1="277.5" x2="336" y2="277.5" stroke="#231f20" stroke-width="1.1"/>
<path d="M246 289 V297.8 H325 V289" fill="none" stroke="#231f20" stroke-width="1.5"/>
<line x1="250" y1="302.2" x2="318" y2="302.2" stroke="#231f20" stroke-width="1.8"/>
<path d="M250 297.8 V302.2" fill="none" stroke="#231f20" stroke-width="1.5"/>
<path d="M318 302.2 V300" fill="none" stroke="#231f20" stroke-width="1.5"/>
<path d="M325 290.5 H336 V299.5 H333.5" fill="none" stroke="#231f20" stroke-width="1.5"/>
<line x1="325" y1="294.5" x2="330" y2="294.5" stroke="#231f20" stroke-width="1.3"/>
<rect x="251" y="289.5" width="3" height="3" fill="#231f20"/>
<rect x="265" y="289.5" width="3" height="2.5" fill="#231f20"/>
<circle cx="350.8" cy="327" r="8.6" fill="#2a2526"/>
<circle cx="350.8" cy="372.9" r="8.6" fill="#2a2526"/>
<rect x="330" y="324.5" width="5" height="5" fill="#231f20"/>
<rect x="319" y="339" width="3.5" height="3" fill="#231f20"/>
<rect x="281" y="362" width="3" height="3" fill="#231f20"/>
<path d="M335 371 L331 373 L335 375" fill="none" stroke="#231f20" stroke-width="1.8"/>
<line x1="175" y1="54.5" x2="200" y2="54.5" stroke="#231f20" stroke-width="1.3"/>
<line x1="175" y1="390" x2="200" y2="390" stroke="#231f20" stroke-width="1.3"/>
<line x1="177.6" y1="54.5" x2="177.6" y2="391" stroke="#231f20" stroke-width="1.5"/>
<path d="M175.5 59 L177.6 53.8 L179.7 59 Z" fill="#231f20"/>
<path d="M175.5 386 L177.6 391 L179.7 386 Z" fill="#231f20"/>
<text x="171.8" y="218.2" text-anchor="middle" transform="rotate(-90 171.8 218.2)" letter-spacing="0.4">426.4 [16.79]</text>
<rect x="685.6" y="55.5" width="69.6" height="335" fill="#eee0ca" stroke="#231f20" stroke-width="2.4"/>
<rect x="686.8" y="56.5" width="2.2" height="171.5" fill="#8a8073"/>
<rect x="751.6" y="56.5" width="2.0" height="171.5" fill="#9a9082"/>
<path d="M685.0 55.5 V34 Q685.0 32 687.0 32 H753.0 Q755.0 32 755.0 34 V55.5" fill="#eee0ca" stroke="#231f20" stroke-width="2"/>
<rect x="687.0" y="43.3" width="66" height="12" rx="5" fill="#eee0ca" stroke="#231f20" stroke-width="1.8"/>
<path d="M687.9000000000001 43.3 V38.5 A2.3 2.3 0 0 1 692.5 38.5 V43.3" fill="#eee0ca" stroke="#231f20" stroke-width="1.5"/>
<path d="M700.3000000000001 43.3 V38.5 A2.3 2.3 0 0 1 704.9 38.5 V43.3" fill="#eee0ca" stroke="#231f20" stroke-width="1.5"/>
<path d="M735.3000000000001 43.3 V38.5 A2.3 2.3 0 0 1 739.9 38.5 V43.3" fill="#eee0ca" stroke="#231f20" stroke-width="1.5"/>
<path d="M747.7 43.3 V38.5 A2.3 2.3 0 0 1 752.3 38.5 V43.3" fill="#eee0ca" stroke="#231f20" stroke-width="1.5"/>
<line x1="702.8" y1="43.3" x2="702.8" y2="55.3" stroke="#231f20" stroke-width="1.6"/>
<line x1="737.4" y1="43.3" x2="737.4" y2="55.3" stroke="#231f20" stroke-width="1.6"/>
<path d="M685.0 390 V410.5 Q685.0 412.5 687.0 412.5 H753.0 Q755.0 412.5 755.0 410.5 V390" fill="#eee0ca" stroke="#231f20" stroke-width="2"/>
<rect x="687.0" y="390.6" width="66" height="12" rx="5" fill="#eee0ca" stroke="#231f20" stroke-width="1.8"/>
<path d="M687.9000000000001 402.6 V406.2 A2.3 2.3 0 0 0 692.5 406.2 V402.6" fill="#eee0ca" stroke="#231f20" stroke-width="1.5"/>
<path d="M700.3000000000001 402.6 V406.2 A2.3 2.3 0 0 0 704.9 406.2 V402.6" fill="#eee0ca" stroke="#231f20" stroke-width="1.5"/>
<path d="M735.3000000000001 402.6 V406.2 A2.3 2.3 0 0 0 739.9 406.2 V402.6" fill="#eee0ca" stroke="#231f20" stroke-width="1.5"/>
<path d="M747.7 402.6 V406.2 A2.3 2.3 0 0 0 752.3 406.2 V402.6" fill="#eee0ca" stroke="#231f20" stroke-width="1.5"/>
<line x1="702.8" y1="390.6" x2="702.8" y2="402.6" stroke="#231f20" stroke-width="1.6"/>
<line x1="737.4" y1="390.6" x2="737.4" y2="402.6" stroke="#231f20" stroke-width="1.6"/>
<rect x="689.5" y="62.1" width="60.1" height="166.2" rx="2" fill="#eee0ca" stroke="#231f20" stroke-width="2.2"/>
<rect x="702.0" y="76.3" width="17" height="3.8" rx="1.9" fill="#2a2627"/>
<line x1="704.5" y1="78.2" x2="716.5" y2="78.2" stroke="#756c62" stroke-width="0.8"/>
<rect x="721.2" y="76.3" width="17" height="3.8" rx="1.9" fill="#2a2627"/>
<line x1="723.7" y1="78.2" x2="735.7" y2="78.2" stroke="#756c62" stroke-width="0.8"/>
<rect x="702.0" y="81.85" width="17" height="3.8" rx="1.9" fill="#2a2627"/>
<line x1="704.5" y1="83.75" x2="716.5" y2="83.75" stroke="#756c62" stroke-width="0.8"/>
<rect x="721.2" y="81.85" width="17" height="3.8" rx="1.9" fill="#2a2627"/>
<line x1="723.7" y1="83.75" x2="735.7" y2="83.75" stroke="#756c62" stroke-width="0.8"/>
<rect x="702.0" y="87.39999999999999" width="17" height="3.8" rx="1.9" fill="#2a2627"/>
<line x1="704.5" y1="89.3" x2="716.5" y2="89.3" stroke="#756c62" stroke-width="0.8"/>
<rect x="721.2" y="87.39999999999999" width="17" height="3.8" rx="1.9" fill="#2a2627"/>
<line x1="723.7" y1="89.3" x2="735.7" y2="89.3" stroke="#756c62" stroke-width="0.8"/>
<rect x="702.0" y="92.94999999999999" width="17" height="3.8" rx="1.9" fill="#2a2627"/>
<line x1="704.5" y1="94.85" x2="716.5" y2="94.85" stroke="#756c62" stroke-width="0.8"/>
<rect x="721.2" y="92.94999999999999" width="17" height="3.8" rx="1.9" fill="#2a2627"/>
<line x1="723.7" y1="94.85" x2="735.7" y2="94.85" stroke="#756c62" stroke-width="0.8"/>
<rect x="702.0" y="98.5" width="17" height="3.8" rx="1.9" fill="#2a2627"/>
<line x1="704.5" y1="100.4" x2="716.5" y2="100.4" stroke="#756c62" stroke-width="0.8"/>
<rect x="721.2" y="98.5" width="17" height="3.8" rx="1.9" fill="#2a2627"/>
<line x1="723.7" y1="100.4" x2="735.7" y2="100.4" stroke="#756c62" stroke-width="0.8"/>
<rect x="702.0" y="104.05" width="17" height="3.8" rx="1.9" fill="#2a2627"/>
<line x1="704.5" y1="105.95" x2="716.5" y2="105.95" stroke="#756c62" stroke-width="0.8"/>
<rect x="721.2" y="104.05" width="17" height="3.8" rx="1.9" fill="#2a2627"/>
<line x1="723.7" y1="105.95" x2="735.7" y2="105.95" stroke="#756c62" stroke-width="0.8"/>
<rect x="702.0" y="109.6" width="17" height="3.8" rx="1.9" fill="#2a2627"/>
<line x1="704.5" y1="111.5" x2="716.5" y2="111.5" stroke="#756c62" stroke-width="0.8"/>
<rect x="721.2" y="109.6" width="17" height="3.8" rx="1.9" fill="#2a2627"/>
<line x1="723.7" y1="111.5" x2="735.7" y2="111.5" stroke="#756c62" stroke-width="0.8"/>
<rect x="702.0" y="115.15" width="17" height="3.8" rx="1.9" fill="#2a2627"/>
<line x1="704.5" y1="117.05000000000001" x2="716.5" y2="117.05000000000001" stroke="#756c62" stroke-width="0.8"/>
<rect x="721.2" y="115.15" width="17" height="3.8" rx="1.9" fill="#2a2627"/>
<line x1="723.7" y1="117.05000000000001" x2="735.7" y2="117.05000000000001" stroke="#756c62" stroke-width="0.8"/>
<rect x="702.0" y="120.69999999999999" width="17" height="3.8" rx="1.9" fill="#2a2627"/>
<line x1="704.5" y1="122.6" x2="716.5" y2="122.6" stroke="#756c62" stroke-width="0.8"/>
<rect x="721.2" y="120.69999999999999" width="17" height="3.8" rx="1.9" fill="#2a2627"/>
<line x1="723.7" y1="122.6" x2="735.7" y2="122.6" stroke="#756c62" stroke-width="0.8"/>
<rect x="702.0" y="126.25" width="17" height="3.8" rx="1.9" fill="#2a2627"/>
<line x1="704.5" y1="128.15" x2="716.5" y2="128.15" stroke="#756c62" stroke-width="0.8"/>
<rect x="721.2" y="126.25" width="17" height="3.8" rx="1.9" fill="#2a2627"/>
<line x1="723.7" y1="128.15" x2="735.7" y2="128.15" stroke="#756c62" stroke-width="0.8"/>
<rect x="721.2" y="131.79999999999998" width="17" height="3.8" rx="1.9" fill="#2a2627"/>
<line x1="723.7" y1="133.7" x2="735.7" y2="133.7" stroke="#756c62" stroke-width="0.8"/>
<rect x="721.2" y="137.35" width="17" height="3.8" rx="1.9" fill="#2a2627"/>
<line x1="723.7" y1="139.25" x2="735.7" y2="139.25" stroke="#756c62" stroke-width="0.8"/>
<rect x="721.2" y="142.9" width="17" height="3.8" rx="1.9" fill="#2a2627"/>
<line x1="723.7" y1="144.8" x2="735.7" y2="144.8" stroke="#756c62" stroke-width="0.8"/>
<rect x="721.2" y="148.45" width="17" height="3.8" rx="1.9" fill="#2a2627"/>
<line x1="723.7" y1="150.35" x2="735.7" y2="150.35" stroke="#756c62" stroke-width="0.8"/>
<rect x="690.5" y="142.5" width="28.5" height="5" rx="1" fill="#231f20"/>
<circle cx="704.7" cy="145" r="8.5" fill="#231f20"/>
<circle cx="704.7" cy="145" r="4.5" fill="#231f20" stroke="#231f20" stroke-width="0.9"/>
<path d="M694.0 145 H699.0 M710.0 145 H715.0" fill="none" stroke="#b9ad9c" stroke-width="1"/>
<rect x="700.8" y="160.2" width="39.9" height="8.3" rx="1.5" fill="#eee0ca" stroke="#231f20" stroke-width="1.8"/>
<rect x="702.0" y="177.1" width="17" height="3.8" rx="1.9" fill="#2a2627"/>
<line x1="704.5" y1="179.0" x2="716.5" y2="179.0" stroke="#756c62" stroke-width="0.8"/>
<rect x="721.2" y="177.1" width="17" height="3.8" rx="1.9" fill="#2a2627"/>
<line x1="723.7" y1="179.0" x2="735.7" y2="179.0" stroke="#756c62" stroke-width="0.8"/>
<rect x="702.0" y="182.65" width="17" height="3.8" rx="1.9" fill="#2a2627"/>
<line x1="704.5" y1="184.55" x2="716.5" y2="184.55" stroke="#756c62" stroke-width="0.8"/>
<rect x="721.2" y="182.65" width="17" height="3.8" rx="1.9" fill="#2a2627"/>
<line x1="723.7" y1="184.55" x2="735.7" y2="184.55" stroke="#756c62" stroke-width="0.8"/>
<rect x="702.0" y="188.2" width="17" height="3.8" rx="1.9" fill="#2a2627"/>
<line x1="704.5" y1="190.1" x2="716.5" y2="190.1" stroke="#756c62" stroke-width="0.8"/>
<rect x="721.2" y="188.2" width="17" height="3.8" rx="1.9" fill="#2a2627"/>
<line x1="723.7" y1="190.1" x2="735.7" y2="190.1" stroke="#756c62" stroke-width="0.8"/>
<rect x="702.0" y="193.75" width="17" height="3.8" rx="1.9" fill="#2a2627"/>
<line x1="704.5" y1="195.65" x2="716.5" y2="195.65" stroke="#756c62" stroke-width="0.8"/>
<rect x="721.2" y="193.75" width="17" height="3.8" rx="1.9" fill="#2a2627"/>
<line x1="723.7" y1="195.65" x2="735.7" y2="195.65" stroke="#756c62" stroke-width="0.8"/>
<rect x="702.0" y="199.29999999999998" width="17" height="3.8" rx="1.9" fill="#2a2627"/>
<line x1="704.5" y1="201.2" x2="716.5" y2="201.2" stroke="#756c62" stroke-width="0.8"/>
<rect x="721.2" y="199.29999999999998" width="17" height="3.8" rx="1.9" fill="#2a2627"/>
<line x1="723.7" y1="201.2" x2="735.7" y2="201.2" stroke="#756c62" stroke-width="0.8"/>
<rect x="702.0" y="204.85" width="17" height="3.8" rx="1.9" fill="#2a2627"/>
<line x1="704.5" y1="206.75" x2="716.5" y2="206.75" stroke="#756c62" stroke-width="0.8"/>
<rect x="721.2" y="204.85" width="17" height="3.8" rx="1.9" fill="#2a2627"/>
<line x1="723.7" y1="206.75" x2="735.7" y2="206.75" stroke="#756c62" stroke-width="0.8"/>
<rect x="702.0" y="210.4" width="17" height="3.8" rx="1.9" fill="#2a2627"/>
<line x1="704.5" y1="212.3" x2="716.5" y2="212.3" stroke="#756c62" stroke-width="0.8"/>
<rect x="721.2" y="210.4" width="17" height="3.8" rx="1.9" fill="#2a2627"/>
<line x1="723.7" y1="212.3" x2="735.7" y2="212.3" stroke="#756c62" stroke-width="0.8"/>
<rect x="702.0" y="243.2" width="17" height="3.8" rx="1.9" fill="#2a2627"/>
<line x1="704.5" y1="245.1" x2="716.5" y2="245.1" stroke="#756c62" stroke-width="0.8"/>
<rect x="721.2" y="243.2" width="17" height="3.8" rx="1.9" fill="#2a2627"/>
<line x1="723.7" y1="245.1" x2="735.7" y2="245.1" stroke="#756c62" stroke-width="0.8"/>
<rect x="702.0" y="248.75" width="17" height="3.8" rx="1.9" fill="#2a2627"/>
<line x1="704.5" y1="250.65" x2="716.5" y2="250.65" stroke="#756c62" stroke-width="0.8"/>
<rect x="721.2" y="248.75" width="17" height="3.8" rx="1.9" fill="#2a2627"/>
<line x1="723.7" y1="250.65" x2="735.7" y2="250.65" stroke="#756c62" stroke-width="0.8"/>
<rect x="702.0" y="254.29999999999998" width="17" height="3.8" rx="1.9" fill="#2a2627"/>
<line x1="704.5" y1="256.2" x2="716.5" y2="256.2" stroke="#756c62" stroke-width="0.8"/>
<rect x="721.2" y="254.29999999999998" width="17" height="3.8" rx="1.9" fill="#2a2627"/>
<line x1="723.7" y1="256.2" x2="735.7" y2="256.2" stroke="#756c62" stroke-width="0.8"/>
<rect x="702.0" y="259.85" width="17" height="3.8" rx="1.9" fill="#2a2627"/>
<line x1="704.5" y1="261.75" x2="716.5" y2="261.75" stroke="#756c62" stroke-width="0.8"/>
<rect x="721.2" y="259.85" width="17" height="3.8" rx="1.9" fill="#2a2627"/>
<line x1="723.7" y1="261.75" x2="735.7" y2="261.75" stroke="#756c62" stroke-width="0.8"/>
<rect x="702.0" y="265.40000000000003" width="17" height="3.8" rx="1.9" fill="#2a2627"/>
<line x1="704.5" y1="267.3" x2="716.5" y2="267.3" stroke="#756c62" stroke-width="0.8"/>
<rect x="721.2" y="265.40000000000003" width="17" height="3.8" rx="1.9" fill="#2a2627"/>
<line x1="723.7" y1="267.3" x2="735.7" y2="267.3" stroke="#756c62" stroke-width="0.8"/>
<rect x="702.0" y="270.95000000000005" width="17" height="3.8" rx="1.9" fill="#2a2627"/>
<line x1="704.5" y1="272.85" x2="716.5" y2="272.85" stroke="#756c62" stroke-width="0.8"/>
<rect x="721.2" y="270.95000000000005" width="17" height="3.8" rx="1.9" fill="#2a2627"/>
<line x1="723.7" y1="272.85" x2="735.7" y2="272.85" stroke="#756c62" stroke-width="0.8"/>
<rect x="702.0" y="276.5" width="17" height="3.8" rx="1.9" fill="#2a2627"/>
<line x1="704.5" y1="278.4" x2="716.5" y2="278.4" stroke="#756c62" stroke-width="0.8"/>
<rect x="721.2" y="276.5" width="17" height="3.8" rx="1.9" fill="#2a2627"/>
<line x1="723.7" y1="278.4" x2="735.7" y2="278.4" stroke="#756c62" stroke-width="0.8"/>
<rect x="702.0" y="282.05" width="17" height="3.8" rx="1.9" fill="#2a2627"/>
<line x1="704.5" y1="283.95" x2="716.5" y2="283.95" stroke="#756c62" stroke-width="0.8"/>
<rect x="721.2" y="282.05" width="17" height="3.8" rx="1.9" fill="#2a2627"/>
<line x1="723.7" y1="283.95" x2="735.7" y2="283.95" stroke="#756c62" stroke-width="0.8"/>
<rect x="702.0" y="287.6" width="17" height="3.8" rx="1.9" fill="#2a2627"/>
<line x1="704.5" y1="289.5" x2="716.5" y2="289.5" stroke="#756c62" stroke-width="0.8"/>
<rect x="721.2" y="287.6" width="17" height="3.8" rx="1.9" fill="#2a2627"/>
<line x1="723.7" y1="289.5" x2="735.7" y2="289.5" stroke="#756c62" stroke-width="0.8"/>
<rect x="702.0" y="293.15000000000003" width="17" height="3.8" rx="1.9" fill="#2a2627"/>
<line x1="704.5" y1="295.05" x2="716.5" y2="295.05" stroke="#756c62" stroke-width="0.8"/>
<rect x="721.2" y="293.15000000000003" width="17" height="3.8" rx="1.9" fill="#2a2627"/>
<line x1="723.7" y1="295.05" x2="735.7" y2="295.05" stroke="#756c62" stroke-width="0.8"/>
<rect x="702.0" y="305.20000000000005" width="17" height="3.8" rx="1.9" fill="#2a2627"/>
<line x1="704.5" y1="307.1" x2="716.5" y2="307.1" stroke="#756c62" stroke-width="0.8"/>
<rect x="721.2" y="305.20000000000005" width="17" height="3.8" rx="1.9" fill="#2a2627"/>
<line x1="723.7" y1="307.1" x2="735.7" y2="307.1" stroke="#756c62" stroke-width="0.8"/>
<rect x="702.0" y="310.75000000000006" width="17" height="3.8" rx="1.9" fill="#2a2627"/>
<line x1="704.5" y1="312.65000000000003" x2="716.5" y2="312.65000000000003" stroke="#756c62" stroke-width="0.8"/>
<rect x="721.2" y="310.75000000000006" width="17" height="3.8" rx="1.9" fill="#2a2627"/>
<line x1="723.7" y1="312.65000000000003" x2="735.7" y2="312.65000000000003" stroke="#756c62" stroke-width="0.8"/>
<rect x="702.0" y="316.30000000000007" width="17" height="3.8" rx="1.9" fill="#2a2627"/>
<line x1="704.5" y1="318.20000000000005" x2="716.5" y2="318.20000000000005" stroke="#756c62" stroke-width="0.8"/>
<rect x="721.2" y="316.30000000000007" width="17" height="3.8" rx="1.9" fill="#2a2627"/>
<line x1="723.7" y1="318.20000000000005" x2="735.7" y2="318.20000000000005" stroke="#756c62" stroke-width="0.8"/>
<rect x="702.0" y="321.85" width="17" height="3.8" rx="1.9" fill="#2a2627"/>
<line x1="704.5" y1="323.75" x2="716.5" y2="323.75" stroke="#756c62" stroke-width="0.8"/>
<rect x="721.2" y="321.85" width="17" height="3.8" rx="1.9" fill="#2a2627"/>
<line x1="723.7" y1="323.75" x2="735.7" y2="323.75" stroke="#756c62" stroke-width="0.8"/>
<rect x="702.0" y="327.40000000000003" width="17" height="3.8" rx="1.9" fill="#2a2627"/>
<line x1="704.5" y1="329.3" x2="716.5" y2="329.3" stroke="#756c62" stroke-width="0.8"/>
<rect x="721.2" y="327.40000000000003" width="17" height="3.8" rx="1.9" fill="#2a2627"/>
<line x1="723.7" y1="329.3" x2="735.7" y2="329.3" stroke="#756c62" stroke-width="0.8"/>
<rect x="702.0" y="332.95000000000005" width="17" height="3.8" rx="1.9" fill="#2a2627"/>
<line x1="704.5" y1="334.85" x2="716.5" y2="334.85" stroke="#756c62" stroke-width="0.8"/>
<rect x="721.2" y="332.95000000000005" width="17" height="3.8" rx="1.9" fill="#2a2627"/>
<line x1="723.7" y1="334.85" x2="735.7" y2="334.85" stroke="#756c62" stroke-width="0.8"/>
<rect x="702.0" y="338.50000000000006" width="17" height="3.8" rx="1.9" fill="#2a2627"/>
<line x1="704.5" y1="340.40000000000003" x2="716.5" y2="340.40000000000003" stroke="#756c62" stroke-width="0.8"/>
<rect x="721.2" y="338.50000000000006" width="17" height="3.8" rx="1.9" fill="#2a2627"/>
<line x1="723.7" y1="340.40000000000003" x2="735.7" y2="340.40000000000003" stroke="#756c62" stroke-width="0.8"/>
<rect x="702.0" y="344.05000000000007" width="17" height="3.8" rx="1.9" fill="#2a2627"/>
<line x1="704.5" y1="345.95000000000005" x2="716.5" y2="345.95000000000005" stroke="#756c62" stroke-width="0.8"/>
<rect x="721.2" y="344.05000000000007" width="17" height="3.8" rx="1.9" fill="#2a2627"/>
<line x1="723.7" y1="345.95000000000005" x2="735.7" y2="345.95000000000005" stroke="#756c62" stroke-width="0.8"/>
<rect x="702.0" y="349.6" width="17" height="3.8" rx="1.9" fill="#2a2627"/>
<line x1="704.5" y1="351.5" x2="716.5" y2="351.5" stroke="#756c62" stroke-width="0.8"/>
<rect x="721.2" y="349.6" width="17" height="3.8" rx="1.9" fill="#2a2627"/>
<line x1="723.7" y1="351.5" x2="735.7" y2="351.5" stroke="#756c62" stroke-width="0.8"/>
<rect x="702.0" y="355.15000000000003" width="17" height="3.8" rx="1.9" fill="#2a2627"/>
<line x1="704.5" y1="357.05" x2="716.5" y2="357.05" stroke="#756c62" stroke-width="0.8"/>
<rect x="721.2" y="355.15000000000003" width="17" height="3.8" rx="1.9" fill="#2a2627"/>
<line x1="723.7" y1="357.05" x2="735.7" y2="357.05" stroke="#756c62" stroke-width="0.8"/>
<circle cx="695.8" cy="379.3" r="2.9" fill="#eee0ca" stroke="#231f20" stroke-width="1.8"/>
<circle cx="695.8" cy="373.6" r="2.0" fill="#231f20"/>
<circle cx="703.3" cy="379.3" r="2.9" fill="#eee0ca" stroke="#231f20" stroke-width="1.8"/>
<circle cx="703.3" cy="373.6" r="2.0" fill="#231f20"/>
<circle cx="711.6" cy="379.3" r="2.9" fill="#eee0ca" stroke="#231f20" stroke-width="1.8"/>
<circle cx="711.6" cy="373.6" r="2.0" fill="#231f20"/>
<circle cx="719.5" cy="379.3" r="2.9" fill="#eee0ca" stroke="#231f20" stroke-width="1.8"/>
<circle cx="719.5" cy="373.6" r="2.0" fill="#231f20"/>
<rect x="876.8000000000001" y="55.5" width="69.6" height="335" fill="#eee0ca" stroke="#231f20" stroke-width="2.4"/>
<rect x="878.0" y="56.5" width="2.2" height="171.5" fill="#8a8073"/>
<rect x="942.8000000000001" y="56.5" width="2.0" height="171.5" fill="#9a9082"/>
<path d="M876.2 55.5 V34 Q876.2 32 878.2 32 H944.2 Q946.2 32 946.2 34 V55.5" fill="#eee0ca" stroke="#231f20" stroke-width="2"/>
<rect x="878.2" y="43.3" width="66" height="12" rx="5" fill="#eee0ca" stroke="#231f20" stroke-width="1.8"/>
<path d="M879.1000000000001 43.3 V38.5 A2.3 2.3 0 0 1 883.7 38.5 V43.3" fill="#eee0ca" stroke="#231f20" stroke-width="1.5"/>
<path d="M891.5000000000001 43.3 V38.5 A2.3 2.3 0 0 1 896.1 38.5 V43.3" fill="#eee0ca" stroke="#231f20" stroke-width="1.5"/>
<path d="M926.5000000000001 43.3 V38.5 A2.3 2.3 0 0 1 931.1 38.5 V43.3" fill="#eee0ca" stroke="#231f20" stroke-width="1.5"/>
<path d="M938.9000000000001 43.3 V38.5 A2.3 2.3 0 0 1 943.5 38.5 V43.3" fill="#eee0ca" stroke="#231f20" stroke-width="1.5"/>
<line x1="894.0" y1="43.3" x2="894.0" y2="55.3" stroke="#231f20" stroke-width="1.6"/>
<line x1="928.6" y1="43.3" x2="928.6" y2="55.3" stroke="#231f20" stroke-width="1.6"/>
<path d="M876.2 390 V410.5 Q876.2 412.5 878.2 412.5 H944.2 Q946.2 412.5 946.2 410.5 V390" fill="#eee0ca" stroke="#231f20" stroke-width="2"/>
<rect x="878.2" y="390.6" width="66" height="12" rx="5" fill="#eee0ca" stroke="#231f20" stroke-width="1.8"/>
<path d="M879.1000000000001 402.6 V406.2 A2.3 2.3 0 0 0 883.7 406.2 V402.6" fill="#eee0ca" stroke="#231f20" stroke-width="1.5"/>
<path d="M891.5000000000001 402.6 V406.2 A2.3 2.3 0 0 0 896.1 406.2 V402.6" fill="#eee0ca" stroke="#231f20" stroke-width="1.5"/>
<path d="M926.5000000000001 402.6 V406.2 A2.3 2.3 0 0 0 931.1 406.2 V402.6" fill="#eee0ca" stroke="#231f20" stroke-width="1.5"/>
<path d="M938.9000000000001 402.6 V406.2 A2.3 2.3 0 0 0 943.5 406.2 V402.6" fill="#eee0ca" stroke="#231f20" stroke-width="1.5"/>
<line x1="894.0" y1="390.6" x2="894.0" y2="402.6" stroke="#231f20" stroke-width="1.6"/>
<line x1="928.6" y1="390.6" x2="928.6" y2="402.6" stroke="#231f20" stroke-width="1.6"/>
<rect x="880.3000000000001" y="61.3" width="62" height="167" fill="#eee0ca"/>
<line x1="942.1" y1="61.3" x2="942.1" y2="228" stroke="#231f20" stroke-width="1.6"/>
<rect x="880.3000000000001" y="61.3" width="3.6" height="167" fill="#231f20"/>
<rect x="880.3000000000001" y="61.3" width="62.5" height="3.8" fill="#231f20"/>
<rect x="927.2" y="62.5" width="6" height="3" fill="#eee0ca"/>
<rect x="933.2" y="63" width="9.5" height="3.5" fill="#231f20"/>
<line x1="917.1" y1="64" x2="917.1" y2="181" stroke="#231f20" stroke-width="2.2"/>
<rect x="882.2" y="176.5" width="36" height="4.5" fill="#231f20"/>
<rect x="917.2" y="80.2" width="21.7" height="3.3" fill="#231f20"/>
<line x1="936.7" y1="80.2" x2="936.7" y2="163.2" stroke="#231f20" stroke-width="2.4"/>
<line x1="917.2" y1="161.9" x2="937.9000000000001" y2="161.9" stroke="#231f20" stroke-width="2.6"/>
<rect x="886.3000000000001" y="185.6" width="17.7" height="12.8" rx="1.5" fill="#231f20"/>
<rect x="890.0" y="188.8" width="10.5" height="6.5" fill="#eee0ca" stroke="#6e665c" stroke-width="1.2"/>
<circle cx="919.6" cy="191.5" r="6" fill="#231f20"/>
<rect x="887.0" y="208.2" width="12.5" height="12.8" rx="1" fill="#231f20"/>
<rect x="904.0" y="208.2" width="11.999999999999996" height="12.8" rx="1" fill="#231f20"/>
<rect x="920.5" y="208.2" width="14.5" height="12.8" rx="1" fill="#231f20"/>
<rect x="890.2" y="211.8" width="5.8" height="5.8" fill="#eee0ca"/>
<rect x="907.2" y="211.8" width="5.8" height="5.8" fill="#eee0ca"/>
<line x1="927.7" y1="211" x2="927.7" y2="219" stroke="#a89d8e" stroke-width="1"/>
<rect x="882.2" y="223.5" width="59" height="4.8" fill="#231f20"/>
<rect x="883.7" y="221.5" width="5" height="2.5" fill="#231f20"/>
<rect x="895.2" y="221.5" width="7" height="2.5" fill="#231f20"/>
<rect x="909.2" y="221.5" width="6" height="2.5" fill="#231f20"/>
<rect x="923.2" y="221.5" width="12" height="2.5" fill="#231f20"/>
<rect x="893.2" y="243.2" width="17" height="3.8" rx="1.9" fill="#2a2627"/>
<line x1="895.7" y1="245.1" x2="907.7" y2="245.1" stroke="#756c62" stroke-width="0.8"/>
<rect x="912.4000000000001" y="243.2" width="17" height="3.8" rx="1.9" fill="#2a2627"/>
<line x1="914.9000000000001" y1="245.1" x2="926.9000000000001" y2="245.1" stroke="#756c62" stroke-width="0.8"/>
<rect x="893.2" y="248.75" width="17" height="3.8" rx="1.9" fill="#2a2627"/>
<line x1="895.7" y1="250.65" x2="907.7" y2="250.65" stroke="#756c62" stroke-width="0.8"/>
<rect x="912.4000000000001" y="248.75" width="17" height="3.8" rx="1.9" fill="#2a2627"/>
<line x1="914.9000000000001" y1="250.65" x2="926.9000000000001" y2="250.65" stroke="#756c62" stroke-width="0.8"/>
<rect x="893.2" y="254.29999999999998" width="17" height="3.8" rx="1.9" fill="#2a2627"/>
<line x1="895.7" y1="256.2" x2="907.7" y2="256.2" stroke="#756c62" stroke-width="0.8"/>
<rect x="912.4000000000001" y="254.29999999999998" width="17" height="3.8" rx="1.9" fill="#2a2627"/>
<line x1="914.9000000000001" y1="256.2" x2="926.9000000000001" y2="256.2" stroke="#756c62" stroke-width="0.8"/>
<rect x="893.2" y="259.85" width="17" height="3.8" rx="1.9" fill="#2a2627"/>
<line x1="895.7" y1="261.75" x2="907.7" y2="261.75" stroke="#756c62" stroke-width="0.8"/>
<rect x="912.4000000000001" y="259.85" width="17" height="3.8" rx="1.9" fill="#2a2627"/>
<line x1="914.9000000000001" y1="261.75" x2="926.9000000000001" y2="261.75" stroke="#756c62" stroke-width="0.8"/>
<rect x="893.2" y="265.40000000000003" width="17" height="3.8" rx="1.9" fill="#2a2627"/>
<line x1="895.7" y1="267.3" x2="907.7" y2="267.3" stroke="#756c62" stroke-width="0.8"/>
<rect x="912.4000000000001" y="265.40000000000003" width="17" height="3.8" rx="1.9" fill="#2a2627"/>
<line x1="914.9000000000001" y1="267.3" x2="926.9000000000001" y2="267.3" stroke="#756c62" stroke-width="0.8"/>
<rect x="893.2" y="270.95000000000005" width="17" height="3.8" rx="1.9" fill="#2a2627"/>
<line x1="895.7" y1="272.85" x2="907.7" y2="272.85" stroke="#756c62" stroke-width="0.8"/>
<rect x="912.4000000000001" y="270.95000000000005" width="17" height="3.8" rx="1.9" fill="#2a2627"/>
<line x1="914.9000000000001" y1="272.85" x2="926.9000000000001" y2="272.85" stroke="#756c62" stroke-width="0.8"/>
<rect x="893.2" y="276.5" width="17" height="3.8" rx="1.9" fill="#2a2627"/>
<line x1="895.7" y1="278.4" x2="907.7" y2="278.4" stroke="#756c62" stroke-width="0.8"/>
<rect x="912.4000000000001" y="276.5" width="17" height="3.8" rx="1.9" fill="#2a2627"/>
<line x1="914.9000000000001" y1="278.4" x2="926.9000000000001" y2="278.4" stroke="#756c62" stroke-width="0.8"/>
<rect x="893.2" y="282.05" width="17" height="3.8" rx="1.9" fill="#2a2627"/>
<line x1="895.7" y1="283.95" x2="907.7" y2="283.95" stroke="#756c62" stroke-width="0.8"/>
<rect x="912.4000000000001" y="282.05" width="17" height="3.8" rx="1.9" fill="#2a2627"/>
<line x1="914.9000000000001" y1="283.95" x2="926.9000000000001" y2="283.95" stroke="#756c62" stroke-width="0.8"/>
<rect x="893.2" y="287.6" width="17" height="3.8" rx="1.9" fill="#2a2627"/>
<line x1="895.7" y1="289.5" x2="907.7" y2="289.5" stroke="#756c62" stroke-width="0.8"/>
<rect x="912.4000000000001" y="287.6" width="17" height="3.8" rx="1.9" fill="#2a2627"/>
<line x1="914.9000000000001" y1="289.5" x2="926.9000000000001" y2="289.5" stroke="#756c62" stroke-width="0.8"/>
<rect x="893.2" y="293.15000000000003" width="17" height="3.8" rx="1.9" fill="#2a2627"/>
<line x1="895.7" y1="295.05" x2="907.7" y2="295.05" stroke="#756c62" stroke-width="0.8"/>
<rect x="912.4000000000001" y="293.15000000000003" width="17" height="3.8" rx="1.9" fill="#2a2627"/>
<line x1="914.9000000000001" y1="295.05" x2="926.9000000000001" y2="295.05" stroke="#756c62" stroke-width="0.8"/>
<rect x="893.2" y="305.20000000000005" width="17" height="3.8" rx="1.9" fill="#2a2627"/>
<line x1="895.7" y1="307.1" x2="907.7" y2="307.1" stroke="#756c62" stroke-width="0.8"/>
<rect x="912.4000000000001" y="305.20000000000005" width="17" height="3.8" rx="1.9" fill="#2a2627"/>
<line x1="914.9000000000001" y1="307.1" x2="926.9000000000001" y2="307.1" stroke="#756c62" stroke-width="0.8"/>
<rect x="893.2" y="310.75000000000006" width="17" height="3.8" rx="1.9" fill="#2a2627"/>
<line x1="895.7" y1="312.65000000000003" x2="907.7" y2="312.65000000000003" stroke="#756c62" stroke-width="0.8"/>
<rect x="912.4000000000001" y="310.75000000000006" width="17" height="3.8" rx="1.9" fill="#2a2627"/>
<line x1="914.9000000000001" y1="312.65000000000003" x2="926.9000000000001" y2="312.65000000000003" stroke="#756c62" stroke-width="0.8"/>
<rect x="893.2" y="316.30000000000007" width="17" height="3.8" rx="1.9" fill="#2a2627"/>
<line x1="895.7" y1="318.20000000000005" x2="907.7" y2="318.20000000000005" stroke="#756c62" stroke-width="0.8"/>
<rect x="912.4000000000001" y="316.30000000000007" width="17" height="3.8" rx="1.9" fill="#2a2627"/>
<line x1="914.9000000000001" y1="318.20000000000005" x2="926.9000000000001" y2="318.20000000000005" stroke="#756c62" stroke-width="0.8"/>
<rect x="893.2" y="321.85" width="17" height="3.8" rx="1.9" fill="#2a2627"/>
<line x1="895.7" y1="323.75" x2="907.7" y2="323.75" stroke="#756c62" stroke-width="0.8"/>
<rect x="912.4000000000001" y="321.85" width="17" height="3.8" rx="1.9" fill="#2a2627"/>
<line x1="914.9000000000001" y1="323.75" x2="926.9000000000001" y2="323.75" stroke="#756c62" stroke-width="0.8"/>
<rect x="893.2" y="327.40000000000003" width="17" height="3.8" rx="1.9" fill="#2a2627"/>
<line x1="895.7" y1="329.3" x2="907.7" y2="329.3" stroke="#756c62" stroke-width="0.8"/>
<rect x="912.4000000000001" y="327.40000000000003" width="17" height="3.8" rx="1.9" fill="#2a2627"/>
<line x1="914.9000000000001" y1="329.3" x2="926.9000000000001" y2="329.3" stroke="#756c62" stroke-width="0.8"/>
<rect x="893.2" y="332.95000000000005" width="17" height="3.8" rx="1.9" fill="#2a2627"/>
<line x1="895.7" y1="334.85" x2="907.7" y2="334.85" stroke="#756c62" stroke-width="0.8"/>
<rect x="912.4000000000001" y="332.95000000000005" width="17" height="3.8" rx="1.9" fill="#2a2627"/>
<line x1="914.9000000000001" y1="334.85" x2="926.9000000000001" y2="334.85" stroke="#756c62" stroke-width="0.8"/>
<rect x="893.2" y="338.50000000000006" width="17" height="3.8" rx="1.9" fill="#2a2627"/>
<line x1="895.7" y1="340.40000000000003" x2="907.7" y2="340.40000000000003" stroke="#756c62" stroke-width="0.8"/>
<rect x="912.4000000000001" y="338.50000000000006" width="17" height="3.8" rx="1.9" fill="#2a2627"/>
<line x1="914.9000000000001" y1="340.40000000000003" x2="926.9000000000001" y2="340.40000000000003" stroke="#756c62" stroke-width="0.8"/>
<rect x="893.2" y="344.05000000000007" width="17" height="3.8" rx="1.9" fill="#2a2627"/>
<line x1="895.7" y1="345.95000000000005" x2="907.7" y2="345.95000000000005" stroke="#756c62" stroke-width="0.8"/>
<rect x="912.4000000000001" y="344.05000000000007" width="17" height="3.8" rx="1.9" fill="#2a2627"/>
<line x1="914.9000000000001" y1="345.95000000000005" x2="926.9000000000001" y2="345.95000000000005" stroke="#756c62" stroke-width="0.8"/>
<rect x="893.2" y="349.6" width="17" height="3.8" rx="1.9" fill="#2a2627"/>
<line x1="895.7" y1="351.5" x2="907.7" y2="351.5" stroke="#756c62" stroke-width="0.8"/>
<rect x="912.4000000000001" y="349.6" width="17" height="3.8" rx="1.9" fill="#2a2627"/>
<line x1="914.9000000000001" y1="351.5" x2="926.9000000000001" y2="351.5" stroke="#756c62" stroke-width="0.8"/>
<rect x="893.2" y="355.15000000000003" width="17" height="3.8" rx="1.9" fill="#2a2627"/>
<line x1="895.7" y1="357.05" x2="907.7" y2="357.05" stroke="#756c62" stroke-width="0.8"/>
<rect x="912.4000000000001" y="355.15000000000003" width="17" height="3.8" rx="1.9" fill="#2a2627"/>
<line x1="914.9000000000001" y1="357.05" x2="926.9000000000001" y2="357.05" stroke="#756c62" stroke-width="0.8"/>
<circle cx="887.0" cy="379.3" r="2.9" fill="#eee0ca" stroke="#231f20" stroke-width="1.8"/>
<circle cx="887.0" cy="373.6" r="2.0" fill="#231f20"/>
<circle cx="894.5" cy="379.3" r="2.9" fill="#eee0ca" stroke="#231f20" stroke-width="1.8"/>
<circle cx="894.5" cy="373.6" r="2.0" fill="#231f20"/>
<circle cx="902.8000000000001" cy="379.3" r="2.9" fill="#eee0ca" stroke="#231f20" stroke-width="1.8"/>
<circle cx="902.8000000000001" cy="373.6" r="2.0" fill="#231f20"/>
<circle cx="910.7" cy="379.3" r="2.9" fill="#eee0ca" stroke="#231f20" stroke-width="1.8"/>
<circle cx="910.7" cy="373.6" r="2.0" fill="#231f20"/>
<line x1="756" y1="32.3" x2="815" y2="32.3" stroke="#231f20" stroke-width="1.3"/>
<line x1="756" y1="37.6" x2="782" y2="37.6" stroke="#231f20" stroke-width="1.3"/>
<line x1="779.5" y1="37.6" x2="779.5" y2="407.4" stroke="#231f20" stroke-width="1.5"/>
<line x1="811.8" y1="32.3" x2="811.8" y2="412.6" stroke="#231f20" stroke-width="1.5"/>
<line x1="756" y1="407.4" x2="782" y2="407.4" stroke="#231f20" stroke-width="1.3"/>
<line x1="756" y1="412.6" x2="815" y2="412.6" stroke="#231f20" stroke-width="1.3"/>
<path d="M777.4 42.6 L779.5 37.0 L781.6 42.6 Z" fill="#231f20"/>
<path d="M777.4 402.4 L779.5 408.0 L781.6 402.4 Z" fill="#231f20"/>
<path d="M809.6999999999999 37.3 L811.8 31.699999999999996 L813.9 37.3 Z" fill="#231f20"/>
<path d="M809.6999999999999 407.6 L811.8 413.20000000000005 L813.9 407.6 Z" fill="#231f20"/>
<text x="801.3" y="230.9" text-anchor="middle" transform="rotate(-90 801.3 230.9)" letter-spacing="0.35">468.5 [18.44]</text>
<text x="833.6" y="229.7" text-anchor="middle" transform="rotate(-90 833.6 229.7)" letter-spacing="0.35">482.0 [18.98]</text>
<line x1="702.8" y1="402.6" x2="702.8" y2="437.5" stroke="#231f20" stroke-width="1.5"/>
<line x1="737.4" y1="402.6" x2="737.4" y2="437.5" stroke="#231f20" stroke-width="1.5"/>
<line x1="685.8" y1="412.5" x2="685.8" y2="496" stroke="#231f20" stroke-width="1.5"/>
<line x1="755.2" y1="412.5" x2="755.2" y2="496" stroke="#231f20" stroke-width="1.5"/>
<line x1="697" y1="436" x2="743" y2="436" stroke="#231f20" stroke-width="1.5"/>
<line x1="681" y1="494.5" x2="760" y2="494.5" stroke="#231f20" stroke-width="1.5"/>
<path d="M707.8 433.9 L702.1999999999999 436 L707.8 438.1 Z" fill="#231f20"/>
<path d="M732.4 433.9 L738.0 436 L732.4 438.1 Z" fill="#231f20"/>
<path d="M690.8 492.4 L685.1999999999999 494.5 L690.8 496.6 Z" fill="#231f20"/>
<path d="M750.2 492.4 L755.8000000000001 494.5 L750.2 496.6 Z" fill="#231f20"/>
<text x="720.1" y="457.3" text-anchor="middle">44.5</text>
<text x="720.1" y="480.6" text-anchor="middle">[1.75]</text>
<text x="717.8" y="517" text-anchor="middle" letter-spacing="0.4">88.0 [3.46]</text>
<rect x="202" y="579.3" width="369" height="68.2" fill="#eee0ca"/>
<line x1="201" y1="579.4" x2="571" y2="579.4" stroke="#231f20" stroke-width="2.6"/>
<line x1="202" y1="588.7" x2="571" y2="588.7" stroke="#231f20" stroke-width="2.6"/>
<line x1="202" y1="647.4" x2="571" y2="647.4" stroke="#231f20" stroke-width="2.6"/>
<line x1="202" y1="579" x2="202" y2="648.5" stroke="#231f20" stroke-width="1.6"/>
<rect x="197.5" y="596" width="4.5" height="42" rx="1" fill="#231f20"/>
<line x1="199" y1="590" x2="199" y2="644" stroke="#231f20" stroke-width="1.2"/>
<rect x="213.3" y="589" width="143.2" height="15.600000000000023" rx="1.5" fill="#2a2526"/>
<line x1="216" y1="591" x2="216" y2="602.6" stroke="#6a6158" stroke-width="0.8"/>
<line x1="219.3" y1="591" x2="219.3" y2="602.6" stroke="#6a6158" stroke-width="0.8"/>
<line x1="222.60000000000002" y1="591" x2="222.60000000000002" y2="602.6" stroke="#6a6158" stroke-width="0.8"/>
<line x1="225.90000000000003" y1="591" x2="225.90000000000003" y2="602.6" stroke="#6a6158" stroke-width="0.8"/>
<line x1="229.20000000000005" y1="591" x2="229.20000000000005" y2="602.6" stroke="#6a6158" stroke-width="0.8"/>
<line x1="232.50000000000006" y1="591" x2="232.50000000000006" y2="602.6" stroke="#6a6158" stroke-width="0.8"/>
<line x1="235.80000000000007" y1="591" x2="235.80000000000007" y2="602.6" stroke="#6a6158" stroke-width="0.8"/>
<line x1="239.10000000000008" y1="591" x2="239.10000000000008" y2="602.6" stroke="#6a6158" stroke-width="0.8"/>
<line x1="242.4000000000001" y1="591" x2="242.4000000000001" y2="602.6" stroke="#6a6158" stroke-width="0.8"/>
<line x1="245.7000000000001" y1="591" x2="245.7000000000001" y2="602.6" stroke="#6a6158" stroke-width="0.8"/>
<line x1="249.0000000000001" y1="591" x2="249.0000000000001" y2="602.6" stroke="#6a6158" stroke-width="0.8"/>
<line x1="252.30000000000013" y1="591" x2="252.30000000000013" y2="602.6" stroke="#6a6158" stroke-width="0.8"/>
<line x1="255.60000000000014" y1="591" x2="255.60000000000014" y2="602.6" stroke="#6a6158" stroke-width="0.8"/>
<line x1="258.90000000000015" y1="591" x2="258.90000000000015" y2="602.6" stroke="#6a6158" stroke-width="0.8"/>
<line x1="262.20000000000016" y1="591" x2="262.20000000000016" y2="602.6" stroke="#6a6158" stroke-width="0.8"/>
<line x1="265.50000000000017" y1="591" x2="265.50000000000017" y2="602.6" stroke="#6a6158" stroke-width="0.8"/>
<line x1="268.8000000000002" y1="591" x2="268.8000000000002" y2="602.6" stroke="#6a6158" stroke-width="0.8"/>
<line x1="272.1000000000002" y1="591" x2="272.1000000000002" y2="602.6" stroke="#6a6158" stroke-width="0.8"/>
<line x1="275.4000000000002" y1="591" x2="275.4000000000002" y2="602.6" stroke="#6a6158" stroke-width="0.8"/>
<line x1="278.7000000000002" y1="591" x2="278.7000000000002" y2="602.6" stroke="#6a6158" stroke-width="0.8"/>
<line x1="282.0000000000002" y1="591" x2="282.0000000000002" y2="602.6" stroke="#6a6158" stroke-width="0.8"/>
<line x1="285.30000000000024" y1="591" x2="285.30000000000024" y2="602.6" stroke="#6a6158" stroke-width="0.8"/>
<line x1="288.60000000000025" y1="591" x2="288.60000000000025" y2="602.6" stroke="#6a6158" stroke-width="0.8"/>
<line x1="291.90000000000026" y1="591" x2="291.90000000000026" y2="602.6" stroke="#6a6158" stroke-width="0.8"/>
<line x1="295.2000000000003" y1="591" x2="295.2000000000003" y2="602.6" stroke="#6a6158" stroke-width="0.8"/>
<line x1="298.5000000000003" y1="591" x2="298.5000000000003" y2="602.6" stroke="#6a6158" stroke-width="0.8"/>
<line x1="301.8000000000003" y1="591" x2="301.8000000000003" y2="602.6" stroke="#6a6158" stroke-width="0.8"/>
<line x1="305.1000000000003" y1="591" x2="305.1000000000003" y2="602.6" stroke="#6a6158" stroke-width="0.8"/>
<line x1="308.4000000000003" y1="591" x2="308.4000000000003" y2="602.6" stroke="#6a6158" stroke-width="0.8"/>
<line x1="311.70000000000033" y1="591" x2="311.70000000000033" y2="602.6" stroke="#6a6158" stroke-width="0.8"/>
<line x1="315.00000000000034" y1="591" x2="315.00000000000034" y2="602.6" stroke="#6a6158" stroke-width="0.8"/>
<line x1="318.30000000000035" y1="591" x2="318.30000000000035" y2="602.6" stroke="#6a6158" stroke-width="0.8"/>
<line x1="321.60000000000036" y1="591" x2="321.60000000000036" y2="602.6" stroke="#6a6158" stroke-width="0.8"/>
<line x1="324.9000000000004" y1="591" x2="324.9000000000004" y2="602.6" stroke="#6a6158" stroke-width="0.8"/>
<line x1="328.2000000000004" y1="591" x2="328.2000000000004" y2="602.6" stroke="#6a6158" stroke-width="0.8"/>
<line x1="331.5000000000004" y1="591" x2="331.5000000000004" y2="602.6" stroke="#6a6158" stroke-width="0.8"/>
<line x1="334.8000000000004" y1="591" x2="334.8000000000004" y2="602.6" stroke="#6a6158" stroke-width="0.8"/>
<line x1="338.1000000000004" y1="591" x2="338.1000000000004" y2="602.6" stroke="#6a6158" stroke-width="0.8"/>
<line x1="341.40000000000043" y1="591" x2="341.40000000000043" y2="602.6" stroke="#6a6158" stroke-width="0.8"/>
<line x1="344.70000000000044" y1="591" x2="344.70000000000044" y2="602.6" stroke="#6a6158" stroke-width="0.8"/>
<line x1="348.00000000000045" y1="591" x2="348.00000000000045" y2="602.6" stroke="#6a6158" stroke-width="0.8"/>
<line x1="351.30000000000047" y1="591" x2="351.30000000000047" y2="602.6" stroke="#6a6158" stroke-width="0.8"/>
<line x1="354.6000000000005" y1="591" x2="354.6000000000005" y2="602.6" stroke="#6a6158" stroke-width="0.8"/>
<rect x="213.3" y="625.6" width="143.2" height="15.699999999999932" rx="1.5" fill="#2a2526"/>
<line x1="216" y1="627.6" x2="216" y2="639.3" stroke="#6a6158" stroke-width="0.8"/>
<line x1="219.3" y1="627.6" x2="219.3" y2="639.3" stroke="#6a6158" stroke-width="0.8"/>
<line x1="222.60000000000002" y1="627.6" x2="222.60000000000002" y2="639.3" stroke="#6a6158" stroke-width="0.8"/>
<line x1="225.90000000000003" y1="627.6" x2="225.90000000000003" y2="639.3" stroke="#6a6158" stroke-width="0.8"/>
<line x1="229.20000000000005" y1="627.6" x2="229.20000000000005" y2="639.3" stroke="#6a6158" stroke-width="0.8"/>
<line x1="232.50000000000006" y1="627.6" x2="232.50000000000006" y2="639.3" stroke="#6a6158" stroke-width="0.8"/>
<line x1="235.80000000000007" y1="627.6" x2="235.80000000000007" y2="639.3" stroke="#6a6158" stroke-width="0.8"/>
<line x1="239.10000000000008" y1="627.6" x2="239.10000000000008" y2="639.3" stroke="#6a6158" stroke-width="0.8"/>
<line x1="242.4000000000001" y1="627.6" x2="242.4000000000001" y2="639.3" stroke="#6a6158" stroke-width="0.8"/>
<line x1="245.7000000000001" y1="627.6" x2="245.7000000000001" y2="639.3" stroke="#6a6158" stroke-width="0.8"/>
<line x1="249.0000000000001" y1="627.6" x2="249.0000000000001" y2="639.3" stroke="#6a6158" stroke-width="0.8"/>
<line x1="252.30000000000013" y1="627.6" x2="252.30000000000013" y2="639.3" stroke="#6a6158" stroke-width="0.8"/>
<line x1="255.60000000000014" y1="627.6" x2="255.60000000000014" y2="639.3" stroke="#6a6158" stroke-width="0.8"/>
<line x1="258.90000000000015" y1="627.6" x2="258.90000000000015" y2="639.3" stroke="#6a6158" stroke-width="0.8"/>
<line x1="262.20000000000016" y1="627.6" x2="262.20000000000016" y2="639.3" stroke="#6a6158" stroke-width="0.8"/>
<line x1="265.50000000000017" y1="627.6" x2="265.50000000000017" y2="639.3" stroke="#6a6158" stroke-width="0.8"/>
<line x1="268.8000000000002" y1="627.6" x2="268.8000000000002" y2="639.3" stroke="#6a6158" stroke-width="0.8"/>
<line x1="272.1000000000002" y1="627.6" x2="272.1000000000002" y2="639.3" stroke="#6a6158" stroke-width="0.8"/>
<line x1="275.4000000000002" y1="627.6" x2="275.4000000000002" y2="639.3" stroke="#6a6158" stroke-width="0.8"/>
<line x1="278.7000000000002" y1="627.6" x2="278.7000000000002" y2="639.3" stroke="#6a6158" stroke-width="0.8"/>
<line x1="282.0000000000002" y1="627.6" x2="282.0000000000002" y2="639.3" stroke="#6a6158" stroke-width="0.8"/>
<line x1="285.30000000000024" y1="627.6" x2="285.30000000000024" y2="639.3" stroke="#6a6158" stroke-width="0.8"/>
<line x1="288.60000000000025" y1="627.6" x2="288.60000000000025" y2="639.3" stroke="#6a6158" stroke-width="0.8"/>
<line x1="291.90000000000026" y1="627.6" x2="291.90000000000026" y2="639.3" stroke="#6a6158" stroke-width="0.8"/>
<line x1="295.2000000000003" y1="627.6" x2="295.2000000000003" y2="639.3" stroke="#6a6158" stroke-width="0.8"/>
<line x1="298.5000000000003" y1="627.6" x2="298.5000000000003" y2="639.3" stroke="#6a6158" stroke-width="0.8"/>
<line x1="301.8000000000003" y1="627.6" x2="301.8000000000003" y2="639.3" stroke="#6a6158" stroke-width="0.8"/>
<line x1="305.1000000000003" y1="627.6" x2="305.1000000000003" y2="639.3" stroke="#6a6158" stroke-width="0.8"/>
<line x1="308.4000000000003" y1="627.6" x2="308.4000000000003" y2="639.3" stroke="#6a6158" stroke-width="0.8"/>
<line x1="311.70000000000033" y1="627.6" x2="311.70000000000033" y2="639.3" stroke="#6a6158" stroke-width="0.8"/>
<line x1="315.00000000000034" y1="627.6" x2="315.00000000000034" y2="639.3" stroke="#6a6158" stroke-width="0.8"/>
<line x1="318.30000000000035" y1="627.6" x2="318.30000000000035" y2="639.3" stroke="#6a6158" stroke-width="0.8"/>
<line x1="321.60000000000036" y1="627.6" x2="321.60000000000036" y2="639.3" stroke="#6a6158" stroke-width="0.8"/>
<line x1="324.9000000000004" y1="627.6" x2="324.9000000000004" y2="639.3" stroke="#6a6158" stroke-width="0.8"/>
<line x1="328.2000000000004" y1="627.6" x2="328.2000000000004" y2="639.3" stroke="#6a6158" stroke-width="0.8"/>
<line x1="331.5000000000004" y1="627.6" x2="331.5000000000004" y2="639.3" stroke="#6a6158" stroke-width="0.8"/>
<line x1="334.8000000000004" y1="627.6" x2="334.8000000000004" y2="639.3" stroke="#6a6158" stroke-width="0.8"/>
<line x1="338.1000000000004" y1="627.6" x2="338.1000000000004" y2="639.3" stroke="#6a6158" stroke-width="0.8"/>
<line x1="341.40000000000043" y1="627.6" x2="341.40000000000043" y2="639.3" stroke="#6a6158" stroke-width="0.8"/>
<line x1="344.70000000000044" y1="627.6" x2="344.70000000000044" y2="639.3" stroke="#6a6158" stroke-width="0.8"/>
<line x1="348.00000000000045" y1="627.6" x2="348.00000000000045" y2="639.3" stroke="#6a6158" stroke-width="0.8"/>
<line x1="351.30000000000047" y1="627.6" x2="351.30000000000047" y2="639.3" stroke="#6a6158" stroke-width="0.8"/>
<line x1="354.6000000000005" y1="627.6" x2="354.6000000000005" y2="639.3" stroke="#6a6158" stroke-width="0.8"/>
<circle cx="225.3" cy="584.3" r="2.8" fill="#231f20"/>
<circle cx="509.5" cy="584.5" r="2.8" fill="#231f20"/>
<rect x="570.8" y="579" width="11.2" height="68.7" fill="#eee0ca" stroke="#231f20" stroke-width="1.6"/>
<line x1="571" y1="579" x2="571" y2="648" stroke="#231f20" stroke-width="2"/>
<circle cx="575.6" cy="584.7" r="3.1" fill="#231f20"/>
<circle cx="575.6" cy="596.7" r="3.1" fill="#231f20"/>
<circle cx="575.6" cy="630.7" r="3.1" fill="#231f20"/>
<circle cx="575.6" cy="642.7" r="3.1" fill="#231f20"/>
<path d="M582 587.5 Q592.7 588 592.7 598.5 Q592.7 606 587.5 611.5 L582 612.5 Z" fill="#eee0ca" stroke="#231f20" stroke-width="1.7"/>
<path d="M585.5 590.5 Q590 592 590 599 Q590 605 586.5 608.5" fill="none" stroke="#231f20" stroke-width="1.1" stroke-dasharray="2.5 1.5"/>
<rect x="583" y="590" width="2.6" height="18" fill="#6e665c"/>
<line x1="582" y1="579" x2="582" y2="648" stroke="#231f20" stroke-width="2.4"/>
<path d="M582 579.3 H600.5 A15 15 0 0 1 615.5 594.3 V632.7 A15 15 0 0 1 600.5 647.7 H582 V639.5 H598.5 A8 8 0 0 0 606.5 631.5 V595.5 A8 8 0 0 0 598.5 587.5 H582 Z" fill="#eee0ca" stroke="#231f20" stroke-width="1.8"/>
<line x1="599.2" y1="579.3" x2="599.2" y2="587.5" stroke="#231f20" stroke-width="1.5"/>
<line x1="599.2" y1="639.5" x2="599.2" y2="647.7" stroke="#231f20" stroke-width="1.5"/>
<line x1="606.5" y1="596.3" x2="615.5" y2="596.3" stroke="#231f20" stroke-width="1.5"/>
<line x1="606.5" y1="631.1" x2="615.5" y2="631.1" stroke="#231f20" stroke-width="1.5"/>
<line x1="201.8" y1="520" x2="201.8" y2="579" stroke="#231f20" stroke-width="1.4"/>
<line x1="617" y1="520" x2="617" y2="614" stroke="#231f20" stroke-width="1.4"/>
<line x1="201.8" y1="523.8" x2="617" y2="523.8" stroke="#231f20" stroke-width="1.5"/>
<line x1="201.8" y1="554.6" x2="581" y2="554.6" stroke="#231f20" stroke-width="1.5"/>
<line x1="580.8" y1="551" x2="580.8" y2="669.5" stroke="#231f20" stroke-width="1.4"/>
<path d="M206.8 521.6999999999999 L201.20000000000002 523.8 L206.8 525.9 Z" fill="#231f20"/>
<path d="M612 521.6999999999999 L617.6 523.8 L612 525.9 Z" fill="#231f20"/>
<path d="M206.8 552.5 L201.20000000000002 554.6 L206.8 556.7 Z" fill="#231f20"/>
<path d="M575.8 552.5 L581.4 554.6 L575.8 556.7 Z" fill="#231f20"/>
<text x="383.8" y="518.5" text-anchor="middle" letter-spacing="0.25">523.9 [20.63]</text>
<text x="383.3" y="548.8" text-anchor="middle" letter-spacing="0.25">479.4 [18.87]</text>
<line x1="141" y1="579.3" x2="202" y2="579.3" stroke="#231f20" stroke-width="1.4"/>
<line x1="141" y1="648.2" x2="202" y2="648.2" stroke="#231f20" stroke-width="1.4"/>
<line x1="143.9" y1="579.3" x2="143.9" y2="648.2" stroke="#231f20" stroke-width="1.5"/>
<path d="M141.8 584.3 L143.9 578.7 L146 584.3 Z" fill="#231f20"/>
<path d="M141.8 643.2 L143.9 648.8 L146 643.2 Z" fill="#231f20"/>
<text x="136.8" y="613.4" text-anchor="middle" transform="rotate(-90 136.8 613.4)" letter-spacing="0.2">87.2 [3.43]</text>
<line x1="171.2" y1="615" x2="241.5" y2="615" stroke="#231f20" stroke-width="1.4"/>
<line x1="171.2" y1="615" x2="171.2" y2="767" stroke="#231f20" stroke-width="1.5"/>
<path d="M169.1 620 L171.2 614.4 L173.3 620 Z" fill="#231f20"/>
<path d="M169.1 643.2 L171.2 648.8 L173.3 643.2 Z" fill="#231f20"/>
<text x="166.6" y="705.8" text-anchor="middle" transform="rotate(-90 166.6 705.8)" letter-spacing="0.1">42.1 [1.66]</text>
<circle cx="241.6" cy="615" r="3" fill="#231f20"/>
<line x1="241.6" y1="615" x2="241.6" y2="671" stroke="#231f20" stroke-width="1.5"/>
<circle cx="314.2" cy="615" r="3" fill="#231f20"/>
<line x1="314.2" y1="615" x2="314.2" y2="671" stroke="#231f20" stroke-width="1.5"/>
<circle cx="386.8" cy="615" r="3" fill="#231f20"/>
<line x1="386.8" y1="615" x2="386.8" y2="671" stroke="#231f20" stroke-width="1.5"/>
<circle cx="459.3" cy="615" r="3" fill="#231f20"/>
<line x1="459.3" y1="615" x2="459.3" y2="671" stroke="#231f20" stroke-width="1.5"/>
<circle cx="532.0" cy="615" r="3" fill="#231f20"/>
<line x1="532.0" y1="615" x2="532.0" y2="671" stroke="#231f20" stroke-width="1.5"/>
<line x1="236" y1="669.3" x2="586" y2="669.3" stroke="#231f20" stroke-width="1.5"/>
<path d="M246.6 667.1999999999999 L241.6 669.3 L246.6 671.4 Z" fill="#231f20"/>
<path d="M319.2 667.1999999999999 L314.2 669.3 L319.2 671.4 Z" fill="#231f20"/>
<path d="M309.2 667.1999999999999 L314.2 669.3 L309.2 671.4 Z" fill="#231f20"/>
<path d="M391.8 667.1999999999999 L386.8 669.3 L391.8 671.4 Z" fill="#231f20"/>
<path d="M381.8 667.1999999999999 L386.8 669.3 L381.8 671.4 Z" fill="#231f20"/>
<path d="M464.3 667.1999999999999 L459.3 669.3 L464.3 671.4 Z" fill="#231f20"/>
<path d="M454.3 667.1999999999999 L459.3 669.3 L454.3 671.4 Z" fill="#231f20"/>
<path d="M537.0 667.1999999999999 L532.0 669.3 L537.0 671.4 Z" fill="#231f20"/>
<path d="M527.0 667.1999999999999 L532.0 669.3 L527.0 671.4 Z" fill="#231f20"/>
<path d="M575.8 667.1999999999999 L580.8 669.3 L575.8 671.4 Z" fill="#231f20"/>
<text x="277.9" y="690.4" text-anchor="middle">92.0</text>
<text x="277.9" y="714.7" text-anchor="middle">[3.62]</text>
<text x="350.5" y="690.4" text-anchor="middle">92.0</text>
<text x="350.5" y="714.7" text-anchor="middle">[3.62]</text>
<text x="423.05" y="690.4" text-anchor="middle">92.0</text>
<text x="423.05" y="714.7" text-anchor="middle">[3.62]</text>
<text x="495.65" y="690.4" text-anchor="middle">92.0</text>
<text x="495.65" y="714.7" text-anchor="middle">[3.62]</text>
<text x="554.1999999999999" y="690.4" text-anchor="middle">61.1</text>
<text x="554.6" y="714.7" text-anchor="middle" letter-spacing="0.4">[2.41]</text>
</svg>
</body></html>
